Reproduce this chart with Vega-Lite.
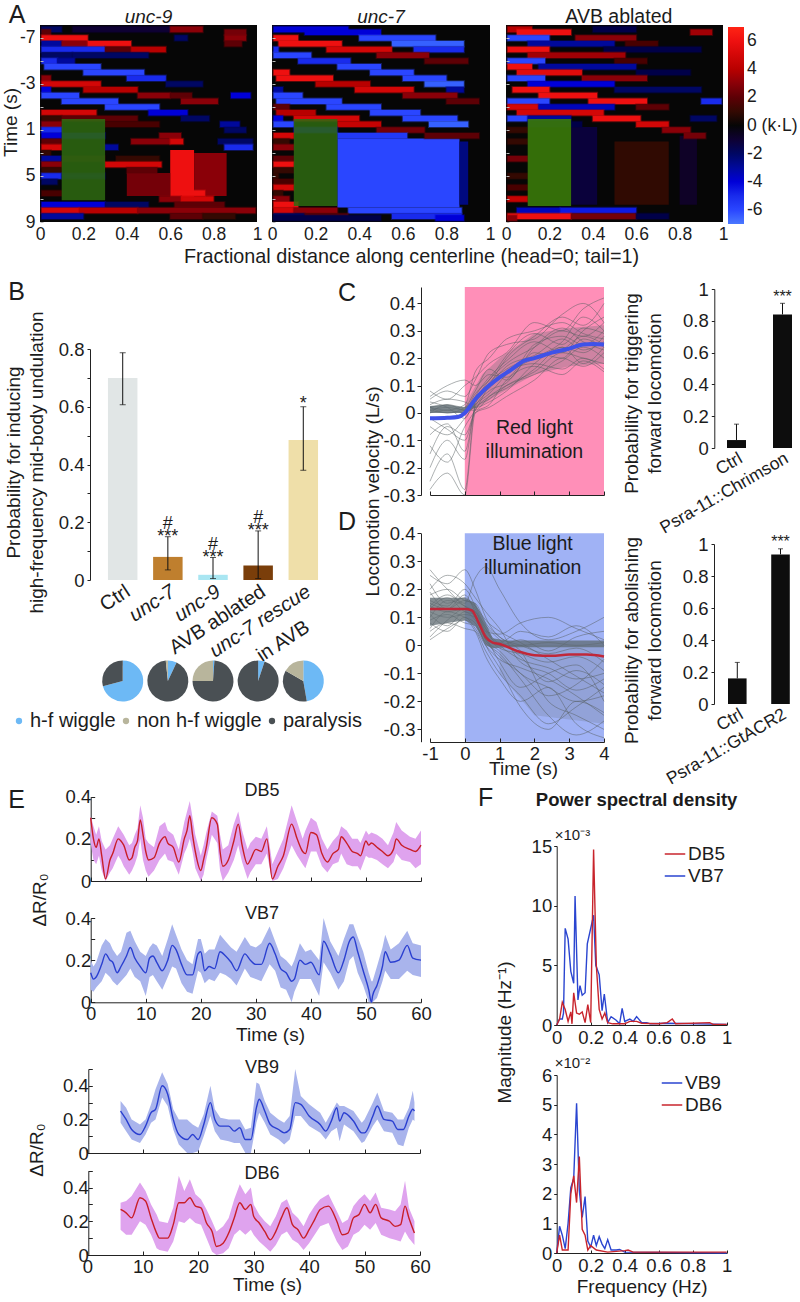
{"$schema":"https://vega.github.io/schema/vega-lite/v6.json","width":800,"height":1302,"padding":0,"autosize":{"type":"none"},"background":"white",
"config":{"font":"Liberation Sans","view":{"stroke":null},"text":{"color":"#1c1c1c"},"axis":{"grid":false,"labelFontSize":18.5,"titleFontSize":19,"titleFontWeight":"normal","labelColor":"#1c1c1c","titleColor":"#1c1c1c","domainColor":"#222","tickColor":"#222","labelFlush":false,"labelOverlap":false,"labelBound":false,"titlePadding":2},"legend":{"labelColor":"#1c1c1c","labelOverlap":false}},
"resolve":{"scale":{"x":"independent","y":"independent","color":"independent","stroke":"independent"},"axis":{"x":"independent","y":"independent"},"legend":{"color":"independent"}},
"datasets":{
"u9s":[{"a":0,"b":1,"t":-8.13,"u":9,"v":0},{"a":0.6,"b":0.71,"t":2.75,"u":7,"v":6},{"a":0.71,"b":0.86,"t":3,"u":6.75,"v":3},{"a":0.4,"b":0.6,"t":4.75,"u":6.75,"v":2.5}],
"u7s":[{"a":0,"b":1,"t":-8.13,"u":9,"v":0},{"a":0.3,"b":0.86,"t":1.75,"u":7.75,"v":-6},{"a":0.86,"b":0.9,"t":2,"u":7.5,"v":-2.5}],
"avs":[{"a":0,"b":1,"t":-8.13,"u":9,"v":0},{"a":0.3,"b":0.42,"t":0.75,"u":7.5,"v":-1.2},{"a":0.5,"b":0.75,"t":2,"u":7.5,"v":0.9},{"a":0.8,"b":0.88,"t":1.5,"u":7.5,"v":-0.7}],
"u9":[{"t":-7.75,"a":0.007,"b":0.1,"v":-2},{"t":-7.75,"a":0.15,"b":0.6,"v":-1},{"t":-7.75,"a":0.6,"b":0.75,"v":3},{"t":-7.5,"a":0.007,"b":0.05,"v":2},{"t":-7.5,"a":0.85,"b":0.95,"v":2.5},{"t":-7,"a":0.007,"b":0.22,"v":6},{"t":-7,"a":0.62,"b":0.68,"v":-2},{"t":-7,"a":0.85,"b":0.95,"v":3},{"t":-6.5,"a":0.007,"b":0.1,"v":-3},{"t":-6.5,"a":0.1,"b":0.22,"v":3},{"t":-6.5,"a":0.22,"b":0.42,"v":6},{"t":-6.5,"a":0.85,"b":0.93,"v":2},{"t":-6,"a":0.007,"b":0.3,"v":-5},{"t":-6,"a":0.3,"b":0.42,"v":2},{"t":-6,"a":0.42,"b":0.58,"v":4},{"t":-5.5,"a":0.007,"b":0.15,"v":-2},{"t":-5.5,"a":0.15,"b":0.5,"v":-2},{"t":-5,"a":0.007,"b":0.08,"v":-5},{"t":-5,"a":0.08,"b":0.16,"v":-3},{"t":-4.5,"a":0.02,"b":0.28,"v":-6},{"t":-4,"a":0.2,"b":0.48,"v":-6},{"t":-3.5,"a":0.007,"b":0.05,"v":3},{"t":-3.5,"a":0.4,"b":0.58,"v":-5},{"t":-3,"a":0.007,"b":0.28,"v":5},{"t":-3,"a":0.58,"b":0.75,"v":-2},{"t":-2.5,"a":0.007,"b":0.05,"v":-4},{"t":-2.5,"a":0.2,"b":0.45,"v":4},{"t":-2,"a":0.007,"b":0.18,"v":-6},{"t":-2,"a":0.45,"b":0.6,"v":3},{"t":-2,"a":0.6,"b":0.7,"v":2},{"t":-2,"a":0.88,"b":0.97,"v":-4},{"t":-1.5,"a":0.1,"b":0.36,"v":-6},{"t":-1.5,"a":0.65,"b":0.82,"v":3},{"t":-1,"a":0.3,"b":0.55,"v":-6},{"t":-0.5,"a":0.007,"b":0.26,"v":5},{"t":-0.5,"a":0.5,"b":0.68,"v":-4},{"t":0,"a":0.007,"b":0.1,"v":1},{"t":0,"a":0.1,"b":0.45,"v":2},{"t":0,"a":0.65,"b":0.78,"v":-2},{"t":0.5,"a":0.007,"b":0.1,"v":3},{"t":0.5,"a":0.3,"b":0.55,"v":1.5},{"t":0.5,"a":0.83,"b":0.92,"v":-3},{"t":1,"a":0.007,"b":0.1,"v":-5},{"t":1,"a":0.85,"b":0.95,"v":-2},{"t":1.5,"a":0.007,"b":0.1,"v":-4},{"t":1.5,"a":0.1,"b":0.3,"v":-3},{"t":1.5,"a":0.55,"b":0.65,"v":3},{"t":2,"a":0.007,"b":0.1,"v":2},{"t":2,"a":0.42,"b":0.6,"v":3},{"t":2,"a":0.6,"b":0.66,"v":5},{"t":2,"a":0.82,"b":0.98,"v":-2},{"t":2.5,"a":0.007,"b":0.1,"v":5},{"t":2.5,"a":0.3,"b":0.36,"v":-3},{"t":2.5,"a":0.85,"b":0.98,"v":-5},{"t":3,"a":0.007,"b":0.05,"v":1},{"t":3.5,"a":0.007,"b":0.1,"v":-3},{"t":3.5,"a":0.1,"b":0.3,"v":1},{"t":3.5,"a":0.35,"b":0.55,"v":1},{"t":4,"a":0.007,"b":0.1,"v":3},{"t":4,"a":0.3,"b":0.56,"v":5},{"t":4.5,"a":0.007,"b":0.1,"v":1},{"t":4.5,"a":0.4,"b":0.54,"v":2},{"t":5,"a":0.007,"b":0.1,"v":-5},{"t":5,"a":0.1,"b":0.3,"v":-2},{"t":5.5,"a":0.007,"b":0.08,"v":-2},{"t":6.5,"a":0.007,"b":0.1,"v":1.5},{"t":6.5,"a":0.62,"b":0.76,"v":6},{"t":7,"a":0.55,"b":0.65,"v":3},{"t":7,"a":0.65,"b":0.8,"v":5},{"t":7.5,"a":0.007,"b":0.3,"v":-4},{"t":7.5,"a":0.3,"b":0.5,"v":-2},{"t":7.5,"a":0.62,"b":0.85,"v":2},{"t":8,"a":0.007,"b":0.18,"v":5},{"t":8,"a":0.18,"b":0.45,"v":4},{"t":8,"a":0.45,"b":0.993,"v":3},{"t":8.5,"a":0.007,"b":0.2,"v":-3},{"t":8.5,"a":0.6,"b":0.75,"v":2},{"t":8.5,"a":0.75,"b":0.9,"v":1}],
"u7":[{"t":-7.75,"a":0.007,"b":0.35,"v":-4},{"t":-7.5,"a":0.15,"b":0.5,"v":-4},{"t":-7,"a":0.007,"b":0.12,"v":6},{"t":-7,"a":0.4,"b":0.75,"v":-6},{"t":-6.5,"a":0.03,"b":0.32,"v":6},{"t":-6.5,"a":0.55,"b":0.88,"v":-6.5},{"t":-6,"a":0.007,"b":0.03,"v":-5},{"t":-6,"a":0.25,"b":0.55,"v":5},{"t":-6,"a":0.65,"b":0.88,"v":-5},{"t":-5.5,"a":0.007,"b":0.18,"v":-6},{"t":-5.5,"a":0.48,"b":0.72,"v":3},{"t":-5,"a":0.12,"b":0.36,"v":-5},{"t":-5,"a":0.7,"b":0.9,"v":2},{"t":-4.5,"a":0.3,"b":0.5,"v":-6},{"t":-4,"a":0.007,"b":0.08,"v":6},{"t":-4,"a":0.45,"b":0.65,"v":-6},{"t":-3.5,"a":0.02,"b":0.28,"v":6},{"t":-3.5,"a":0.6,"b":0.8,"v":-6},{"t":-3,"a":0.2,"b":0.45,"v":4},{"t":-3,"a":0.7,"b":0.88,"v":-6.5},{"t":-2.5,"a":0.007,"b":0.05,"v":-3},{"t":-2.5,"a":0.38,"b":0.65,"v":5},{"t":-2.5,"a":0.8,"b":0.88,"v":-3},{"t":-2,"a":0.007,"b":0.14,"v":-6},{"t":-2,"a":0.6,"b":0.85,"v":3},{"t":-1.5,"a":0.02,"b":0.32,"v":-6},{"t":-1.5,"a":0.8,"b":0.95,"v":2},{"t":-1,"a":0.007,"b":0.08,"v":2},{"t":-1,"a":0.25,"b":0.5,"v":-6},{"t":-0.5,"a":0.02,"b":0.2,"v":4},{"t":-0.5,"a":0.45,"b":0.68,"v":-6},{"t":0,"a":0.007,"b":0.05,"v":-4},{"t":0,"a":0.1,"b":0.4,"v":5},{"t":0,"a":0.6,"b":0.85,"v":-6},{"t":0.5,"a":0.007,"b":0.1,"v":-6},{"t":0.5,"a":0.3,"b":0.5,"v":4.5},{"t":0.5,"a":0.72,"b":0.9,"v":-6.5},{"t":1,"a":0.1,"b":0.3,"v":-4},{"t":1,"a":0.48,"b":0.7,"v":2.5},{"t":1.5,"a":0.007,"b":0.1,"v":5},{"t":1.5,"a":0.3,"b":0.62,"v":-5.5},{"t":1.5,"a":0.7,"b":0.95,"v":2},{"t":2,"a":0.007,"b":0.08,"v":1},{"t":2.5,"a":0.007,"b":0.1,"v":3},{"t":3.5,"a":0.007,"b":0.1,"v":2},{"t":4,"a":0.007,"b":0.1,"v":6},{"t":4.5,"a":0.007,"b":0.1,"v":1},{"t":5,"a":0.007,"b":0.03,"v":1},{"t":5.5,"a":0.007,"b":0.1,"v":1.5},{"t":6,"a":0.007,"b":0.1,"v":5},{"t":6.5,"a":0.007,"b":0.05,"v":1},{"t":7,"a":0.007,"b":0.08,"v":3},{"t":7.5,"a":0.007,"b":0.12,"v":6},{"t":8,"a":0.007,"b":0.1,"v":5},{"t":8,"a":0.1,"b":0.3,"v":3},{"t":8,"a":0.35,"b":0.87,"v":-6},{"t":8.5,"a":0.007,"b":0.15,"v":-2},{"t":8.5,"a":0.15,"b":0.35,"v":2},{"t":8.5,"a":0.55,"b":0.87,"v":-5},{"t":8.65,"a":0.007,"b":0.5,"v":-1.5},{"t":8.65,"a":0.75,"b":0.88,"v":-4}],
"av":[{"t":-7.75,"a":0.007,"b":0.12,"v":4},{"t":-7.75,"a":0.4,"b":0.6,"v":-1.5},{"t":-7.5,"a":0.05,"b":0.3,"v":6},{"t":-7.5,"a":0.85,"b":0.95,"v":3.5},{"t":-7,"a":0.007,"b":0.2,"v":-6},{"t":-7,"a":0.32,"b":0.6,"v":3},{"t":-6.5,"a":0.1,"b":0.5,"v":-3},{"t":-6.5,"a":0.55,"b":0.7,"v":1.5},{"t":-6,"a":0.007,"b":0.2,"v":6},{"t":-6,"a":0.45,"b":0.9,"v":-1.5},{"t":-5.5,"a":0.1,"b":0.55,"v":3.5},{"t":-5,"a":0.007,"b":0.18,"v":-6},{"t":-5,"a":0.5,"b":0.65,"v":1.5},{"t":-4.5,"a":0.007,"b":0.12,"v":6},{"t":-4.5,"a":0.15,"b":0.6,"v":-3},{"t":-4,"a":0.05,"b":0.35,"v":5.5},{"t":-4,"a":0.6,"b":0.85,"v":-1.5},{"t":-3.5,"a":0.007,"b":0.18,"v":-6},{"t":-3.5,"a":0.35,"b":0.65,"v":3},{"t":-3,"a":0.1,"b":0.5,"v":-4},{"t":-2.5,"a":0.03,"b":0.2,"v":6},{"t":-2.5,"a":0.5,"b":0.9,"v":-2},{"t":-2,"a":0.15,"b":0.42,"v":6},{"t":-1.5,"a":0.007,"b":0.2,"v":-6},{"t":-1.5,"a":0.38,"b":0.65,"v":6},{"t":-1.5,"a":0.9,"b":0.993,"v":-5},{"t":-1,"a":0.007,"b":0.15,"v":5},{"t":-1,"a":0.15,"b":0.5,"v":-3.5},{"t":-1,"a":0.6,"b":0.75,"v":2},{"t":-0.5,"a":0.05,"b":0.45,"v":5},{"t":0,"a":0.007,"b":0.1,"v":-6},{"t":0,"a":0.1,"b":0.3,"v":-3},{"t":0,"a":0.4,"b":0.62,"v":6},{"t":0,"a":0.85,"b":0.97,"v":-2},{"t":0.5,"a":0.1,"b":0.35,"v":-1.5},{"t":0.5,"a":0.6,"b":0.75,"v":5},{"t":1,"a":0.007,"b":0.1,"v":1},{"t":1,"a":0.72,"b":0.85,"v":3},{"t":1.5,"a":0.82,"b":0.92,"v":2.5},{"t":2,"a":0.007,"b":0.1,"v":1},{"t":3.5,"a":0.007,"b":0.1,"v":2.5},{"t":5,"a":0.007,"b":0.1,"v":1},{"t":6,"a":0.007,"b":0.1,"v":1.5},{"t":7,"a":0.007,"b":0.1,"v":4.5},{"t":8,"a":0.05,"b":0.25,"v":-3.5},{"t":8,"a":0.25,"b":0.6,"v":-4.5},{"t":8.5,"a":0.007,"b":0.3,"v":6},{"t":8.5,"a":0.3,"b":0.6,"v":2.5},{"t":8.5,"a":0.6,"b":0.75,"v":-1.5},{"t":8.65,"a":0.007,"b":0.05,"v":3}],
"db5":[{"t":0,"v":0.3,"l":0.18,"h":0.31},{"t":0.5,"v":0.2,"l":0.1,"h":0.26},{"t":1,"v":0.16,"l":0.08,"h":0.22},{"t":1.5,"v":0.2,"l":0.12,"h":0.26},{"t":2,"v":0.12,"l":0.05,"h":0.19},{"t":2.7,"v":0.01,"l":0,"h":0.15},{"t":3.5,"v":0.1,"l":0.04,"h":0.17},{"t":4,"v":0.13,"l":0.06,"h":0.2},{"t":5,"v":0.2,"l":0.12,"h":0.26},{"t":5.5,"v":0.19,"l":0.1,"h":0.24},{"t":6,"v":0.17,"l":0.07,"h":0.22},{"t":7,"v":0.1,"l":0.03,"h":0.17},{"t":7.5,"v":0.11,"l":0.05,"h":0.18},{"t":8,"v":0.16,"l":0.08,"h":0.22},{"t":8.5,"v":0.19,"l":0.12,"h":0.25},{"t":9,"v":0.29,"l":0.2,"h":0.36},{"t":9.5,"v":0.22,"l":0.1,"h":0.3},{"t":10,"v":0.14,"l":0.05,"h":0.2},{"t":10.5,"v":0.1,"l":0.02,"h":0.18},{"t":11.5,"v":0.11,"l":0.05,"h":0.16},{"t":12.5,"v":0.18,"l":0.1,"h":0.26},{"t":13.5,"v":0.21,"l":0.13,"h":0.28},{"t":14,"v":0.18,"l":0.1,"h":0.24},{"t":15,"v":0.16,"l":0.09,"h":0.22},{"t":16,"v":0.09,"l":0.03,"h":0.15},{"t":17,"v":0.2,"l":0.13,"h":0.28},{"t":17.5,"v":0.24,"l":0.16,"h":0.33},{"t":18,"v":0.31,"l":0.2,"h":0.38},{"t":18.5,"v":0.22,"l":0.14,"h":0.3},{"t":19,"v":0.14,"l":0.06,"h":0.22},{"t":20,"v":0.05,"l":0,"h":0.12},{"t":20.5,"v":0.1,"l":0.03,"h":0.17},{"t":21,"v":0.16,"l":0.1,"h":0.23},{"t":22,"v":0.3,"l":0.22,"h":0.33},{"t":23,"v":0.27,"l":0.18,"h":0.31},{"t":23.5,"v":0.14,"l":0.05,"h":0.22},{"t":24,"v":0.07,"l":0,"h":0.15},{"t":25,"v":0.1,"l":0.04,"h":0.17},{"t":26,"v":0.19,"l":0.1,"h":0.27},{"t":26.8,"v":0.27,"l":0.17,"h":0.33},{"t":27.5,"v":0.17,"l":0.09,"h":0.24},{"t":28.5,"v":0.08,"l":0.01,"h":0.15},{"t":29,"v":0.1,"l":0.04,"h":0.18},{"t":30,"v":0.15,"l":0.08,"h":0.21},{"t":31,"v":0.14,"l":0.08,"h":0.2},{"t":32,"v":0.2,"l":0.13,"h":0.26},{"t":33,"v":0.01,"l":0,"h":0.08},{"t":34,"v":0.07,"l":0.01,"h":0.14},{"t":35,"v":0.12,"l":0.06,"h":0.2},{"t":36.5,"v":0.27,"l":0.17,"h":0.36},{"t":37.5,"v":0.2,"l":0.12,"h":0.28},{"t":38.5,"v":0.14,"l":0.08,"h":0.2},{"t":39,"v":0.13,"l":0.06,"h":0.24},{"t":40,"v":0.23,"l":0.14,"h":0.3},{"t":41,"v":0.22,"l":0.14,"h":0.28},{"t":42,"v":0.13,"l":0.07,"h":0.2},{"t":43,"v":0.09,"l":0.04,"h":0.15},{"t":44,"v":0.13,"l":0.08,"h":0.19},{"t":45,"v":0.15,"l":0.09,"h":0.22},{"t":45.5,"v":0.21,"l":0.13,"h":0.26},{"t":46.5,"v":0.18,"l":0.08,"h":0.24},{"t":47.5,"v":0.14,"l":0.07,"h":0.2},{"t":48.5,"v":0.13,"l":0.07,"h":0.2},{"t":49,"v":0.12,"l":0.05,"h":0.18},{"t":50,"v":0.19,"l":0.12,"h":0.24},{"t":50.5,"v":0.17,"l":0.11,"h":0.22},{"t":51,"v":0.18,"l":0.11,"h":0.23},{"t":52,"v":0.16,"l":0.1,"h":0.22},{"t":53,"v":0.14,"l":0.08,"h":0.2},{"t":54,"v":0.12,"l":0.06,"h":0.17},{"t":55,"v":0.15,"l":0.09,"h":0.23},{"t":55.5,"v":0.2,"l":0.13,"h":0.28},{"t":56.5,"v":0.17,"l":0.1,"h":0.24},{"t":58,"v":0.15,"l":0.09,"h":0.21},{"t":59,"v":0.14,"l":0.06,"h":0.2},{"t":60,"v":0.17,"l":0.08,"h":0.24}],
"vb7":[{"t":0,"v":0.14,"l":0.06,"h":0.2},{"t":0.5,"v":0.11,"l":0.05,"h":0.17},{"t":1,"v":0.12,"l":0.07,"h":0.19},{"t":2,"v":0.18,"l":0.1,"h":0.27},{"t":2.7,"v":0.23,"l":0.14,"h":0.3},{"t":3.5,"v":0.2,"l":0.12,"h":0.28},{"t":4,"v":0.19,"l":0.1,"h":0.25},{"t":4.8,"v":0.14,"l":0.08,"h":0.22},{"t":5.5,"v":0.17,"l":0.1,"h":0.24},{"t":6.5,"v":0.22,"l":0.13,"h":0.33},{"t":7.2,"v":0.26,"l":0.16,"h":0.34},{"t":8,"v":0.21,"l":0.12,"h":0.29},{"t":9,"v":0.17,"l":0.1,"h":0.24},{"t":10,"v":0.14,"l":0.03,"h":0.22},{"t":10.7,"v":0.21,"l":0.12,"h":0.26},{"t":11.3,"v":0.22,"l":0.13,"h":0.28},{"t":12,"v":0.19,"l":0.1,"h":0.27},{"t":13,"v":0.15,"l":0.06,"h":0.22},{"t":14,"v":0.2,"l":0.12,"h":0.3},{"t":14.8,"v":0.27,"l":0.17,"h":0.37},{"t":15.5,"v":0.25,"l":0.16,"h":0.32},{"t":16.5,"v":0.18,"l":0.09,"h":0.25},{"t":17.5,"v":0.13,"l":0.05,"h":0.2},{"t":18.5,"v":0.13,"l":0.04,"h":0.18},{"t":19.5,"v":0.23,"l":0.15,"h":0.3},{"t":20,"v":0.24,"l":0.14,"h":0.3},{"t":20.7,"v":0.15,"l":0.09,"h":0.23},{"t":21.5,"v":0.17,"l":0.11,"h":0.25},{"t":22.5,"v":0.16,"l":0.1,"h":0.25},{"t":23.5,"v":0.24,"l":0.14,"h":0.32},{"t":24.5,"v":0.22,"l":0.13,"h":0.29},{"t":25.5,"v":0.19,"l":0.11,"h":0.26},{"t":26.5,"v":0.15,"l":0.08,"h":0.24},{"t":28,"v":0.23,"l":0.16,"h":0.31},{"t":29,"v":0.2,"l":0.12,"h":0.27},{"t":30,"v":0.18,"l":0.11,"h":0.26},{"t":31,"v":0.18,"l":0.1,"h":0.28},{"t":32.5,"v":0.28,"l":0.18,"h":0.36},{"t":33.5,"v":0.23,"l":0.15,"h":0.29},{"t":34.5,"v":0.16,"l":0.07,"h":0.22},{"t":35.5,"v":0.14,"l":0.06,"h":0.2},{"t":36.5,"v":0.1,"l":0,"h":0.17},{"t":37,"v":0.11,"l":0.05,"h":0.2},{"t":38,"v":0.2,"l":0.11,"h":0.28},{"t":39,"v":0.18,"l":0.11,"h":0.24},{"t":40,"v":0.19,"l":0.11,"h":0.25},{"t":41.5,"v":0.13,"l":0.03,"h":0.2},{"t":42.3,"v":0.29,"l":0.19,"h":0.4},{"t":43.5,"v":0.23,"l":0.14,"h":0.29},{"t":45,"v":0.14,"l":0.06,"h":0.22},{"t":46,"v":0.2,"l":0.1,"h":0.3},{"t":47,"v":0.29,"l":0.2,"h":0.37},{"t":47.7,"v":0.31,"l":0.22,"h":0.37},{"t":48.5,"v":0.24,"l":0.14,"h":0.31},{"t":49.5,"v":0.15,"l":0.08,"h":0.24},{"t":50.5,"v":0.06,"l":0,"h":0.14},{"t":51,"v":0,"l":0,"h":0.1},{"t":51.2,"v":0.03,"l":0,"h":0.1},{"t":52,"v":0.08,"l":0.02,"h":0.17},{"t":53,"v":0.17,"l":0.1,"h":0.26},{"t":53.5,"v":0.24,"l":0.15,"h":0.32},{"t":54.5,"v":0.19,"l":0.11,"h":0.25},{"t":56,"v":0.2,"l":0.11,"h":0.28},{"t":57.5,"v":0.27,"l":0.15,"h":0.34},{"t":58.5,"v":0.21,"l":0.13,"h":0.28},{"t":60,"v":0.2,"l":0.12,"h":0.27}],
"vb9":[{"t":6,"v":0.25,"l":0.18,"h":0.31},{"t":7,"v":0.2,"l":0.13,"h":0.27},{"t":8,"v":0.14,"l":0.08,"h":0.2},{"t":9.5,"v":0.11,"l":0.06,"h":0.17},{"t":10.5,"v":0.16,"l":0.11,"h":0.2},{"t":11.5,"v":0.24,"l":0.18,"h":0.29},{"t":12.3,"v":0.26,"l":0.2,"h":0.38},{"t":13.5,"v":0.4,"l":0.33,"h":0.48},{"t":14.5,"v":0.35,"l":0.28,"h":0.41},{"t":15.5,"v":0.2,"l":0.14,"h":0.26},{"t":16.5,"v":0.11,"l":0.05,"h":0.2},{"t":18,"v":0.08,"l":0,"h":0.2},{"t":19,"v":0.11,"l":0,"h":0.17},{"t":20,"v":0.08,"l":0.01,"h":0.15},{"t":21,"v":0.17,"l":0.1,"h":0.23},{"t":22.2,"v":0.3,"l":0.22,"h":0.4},{"t":23,"v":0.2,"l":0.13,"h":0.26},{"t":24,"v":0.16,"l":0.08,"h":0.21},{"t":25.5,"v":0.16,"l":0.07,"h":0.2},{"t":26.5,"v":0.13,"l":0.06,"h":0.2},{"t":27.5,"v":0.15,"l":0.06,"h":0.2},{"t":28.5,"v":0.08,"l":0,"h":0.14},{"t":29.5,"v":0.08,"l":0,"h":0.15},{"t":30.5,"v":0.27,"l":0.18,"h":0.42},{"t":31,"v":0.32,"l":0.24,"h":0.41},{"t":32,"v":0.25,"l":0.18,"h":0.31},{"t":33,"v":0.17,"l":0.11,"h":0.24},{"t":34.5,"v":0.14,"l":0.08,"h":0.2},{"t":35.5,"v":0.12,"l":0.05,"h":0.18},{"t":36.5,"v":0.14,"l":0.08,"h":0.22},{"t":37.5,"v":0.3,"l":0.22,"h":0.5},{"t":38.5,"v":0.29,"l":0.22,"h":0.34},{"t":40,"v":0.22,"l":0.16,"h":0.29},{"t":42,"v":0.17,"l":0.12,"h":0.24},{"t":43,"v":0.13,"l":0.08,"h":0.18},{"t":44,"v":0.19,"l":0.13,"h":0.24},{"t":45,"v":0.27,"l":0.15,"h":0.3},{"t":45.5,"v":0.19,"l":0.07,"h":0.28},{"t":46.3,"v":0.24,"l":0.17,"h":0.28},{"t":48,"v":0.19,"l":0.13,"h":0.25},{"t":49.5,"v":0.12,"l":0.06,"h":0.18},{"t":50,"v":0.12,"l":0.07,"h":0.2},{"t":51.5,"v":0.22,"l":0.16,"h":0.3},{"t":52.3,"v":0.28,"l":0.2,"h":0.36},{"t":53.5,"v":0.2,"l":0.13,"h":0.25},{"t":55,"v":0.19,"l":0.12,"h":0.24},{"t":56,"v":0.14,"l":0.05,"h":0.2},{"t":57,"v":0.14,"l":0.04,"h":0.2},{"t":58,"v":0.22,"l":0.15,"h":0.27},{"t":58.7,"v":0.26,"l":0.2,"h":0.37},{"t":59,"v":0.25,"l":0.19,"h":0.3}],
"db6":[{"t":6,"v":0.27,"l":0.15,"h":0.31},{"t":7,"v":0.25,"l":0.12,"h":0.32},{"t":8,"v":0.22,"l":0.12,"h":0.35},{"t":9.5,"v":0.34,"l":0.2,"h":0.43},{"t":10.5,"v":0.32,"l":0.18,"h":0.38},{"t":11.5,"v":0.22,"l":0.12,"h":0.3},{"t":12.5,"v":0.13,"l":0.04,"h":0.24},{"t":13,"v":0.1,"l":0.03,"h":0.2},{"t":14.5,"v":0.1,"l":0.02,"h":0.19},{"t":15.5,"v":0.18,"l":0.08,"h":0.28},{"t":16.5,"v":0.31,"l":0.2,"h":0.47},{"t":17.5,"v":0.31,"l":0.19,"h":0.38},{"t":18.5,"v":0.34,"l":0.22,"h":0.45},{"t":19.5,"v":0.29,"l":0.19,"h":0.36},{"t":20.5,"v":0.28,"l":0.18,"h":0.33},{"t":21.5,"v":0.19,"l":0.1,"h":0.27},{"t":22.5,"v":0.14,"l":0.02,"h":0.2},{"t":23.3,"v":0.05,"l":0,"h":0.14},{"t":24.5,"v":0.07,"l":0.01,"h":0.17},{"t":25.5,"v":0.13,"l":0.04,"h":0.22},{"t":26.5,"v":0.22,"l":0.12,"h":0.33},{"t":27.5,"v":0.31,"l":0.15,"h":0.42},{"t":28.5,"v":0.27,"l":0.12,"h":0.36},{"t":29.5,"v":0.3,"l":0.15,"h":0.4},{"t":30,"v":0.23,"l":0.12,"h":0.3},{"t":31,"v":0.19,"l":0.08,"h":0.24},{"t":32,"v":0.14,"l":0.05,"h":0.2},{"t":33,"v":0.09,"l":0.02,"h":0.17},{"t":34,"v":0.14,"l":0.06,"h":0.23},{"t":35,"v":0.22,"l":0.12,"h":0.31},{"t":36,"v":0.28,"l":0.14,"h":0.33},{"t":37,"v":0.18,"l":0.09,"h":0.25},{"t":38,"v":0.15,"l":0.07,"h":0.22},{"t":39,"v":0.1,"l":0.03,"h":0.17},{"t":40,"v":0.15,"l":0.07,"h":0.24},{"t":41,"v":0.21,"l":0.12,"h":0.29},{"t":42,"v":0.27,"l":0.17,"h":0.33},{"t":43.5,"v":0.29,"l":0.19,"h":0.36},{"t":45,"v":0.2,"l":0.08,"h":0.26},{"t":46,"v":0.12,"l":0.03,"h":0.19},{"t":47,"v":0.13,"l":0.05,"h":0.21},{"t":48,"v":0.22,"l":0.12,"h":0.29},{"t":49,"v":0.24,"l":0.14,"h":0.33},{"t":50,"v":0.3,"l":0.18,"h":0.36},{"t":51,"v":0.25,"l":0.15,"h":0.32},{"t":52,"v":0.3,"l":0.19,"h":0.37},{"t":53,"v":0.22,"l":0.12,"h":0.28},{"t":54.5,"v":0.2,"l":0.1,"h":0.27},{"t":55.5,"v":0.17,"l":0.09,"h":0.26},{"t":56.5,"v":0.18,"l":0.08,"h":0.3},{"t":57.3,"v":0.29,"l":0.14,"h":0.44},{"t":58,"v":0.22,"l":0.1,"h":0.28},{"t":59,"v":0.13,"l":0.06,"h":0.2}],
"f1":[{"s":"VB7","f":0,"m":0},{"s":"VB7","f":0.017,"m":0.5},{"s":"VB7","f":0.033,"m":0.5},{"s":"VB7","f":0.04,"m":1},{"s":"VB7","f":0.05,"m":8.1},{"s":"VB7","f":0.067,"m":7.2},{"s":"VB7","f":0.083,"m":4.5},{"s":"VB7","f":0.1,"m":3.5},{"s":"VB7","f":0.108,"m":10.8},{"s":"VB7","f":0.125,"m":2.1},{"s":"VB7","f":0.137,"m":3.3},{"s":"VB7","f":0.15,"m":2.5},{"s":"VB7","f":0.167,"m":2.7},{"s":"VB7","f":0.18,"m":6.8},{"s":"VB7","f":0.2,"m":8.1},{"s":"VB7","f":0.217,"m":9.2},{"s":"VB7","f":0.23,"m":5},{"s":"VB7","f":0.25,"m":4.2},{"s":"VB7","f":0.267,"m":1.2},{"s":"VB7","f":0.28,"m":2.6},{"s":"VB7","f":0.3,"m":0.2},{"s":"VB7","f":0.32,"m":0.7},{"s":"VB7","f":0.35,"m":0.4},{"s":"VB7","f":0.37,"m":0.1},{"s":"VB7","f":0.385,"m":1.4},{"s":"VB7","f":0.4,"m":0.3},{"s":"VB7","f":0.43,"m":0.5},{"s":"VB7","f":0.45,"m":0.3},{"s":"VB7","f":0.47,"m":0.7},{"s":"VB7","f":0.5,"m":0.2},{"s":"VB7","f":0.53,"m":0.2},{"s":"VB7","f":0.55,"m":0.1},{"s":"VB7","f":0.65,"m":0.15},{"s":"VB7","f":1,"m":0.05},{"s":"DB5","f":0,"m":0},{"s":"DB5","f":0.017,"m":0.5},{"s":"DB5","f":0.033,"m":1.9},{"s":"DB5","f":0.05,"m":1.3},{"s":"DB5","f":0.067,"m":0.3},{"s":"DB5","f":0.083,"m":1.1},{"s":"DB5","f":0.09,"m":0.1},{"s":"DB5","f":0.1,"m":2.7},{"s":"DB5","f":0.117,"m":1},{"s":"DB5","f":0.133,"m":0.9},{"s":"DB5","f":0.15,"m":1.1},{"s":"DB5","f":0.167,"m":0.2},{"s":"DB5","f":0.183,"m":1.7},{"s":"DB5","f":0.2,"m":0.2},{"s":"DB5","f":0.217,"m":14.7},{"s":"DB5","f":0.233,"m":5},{"s":"DB5","f":0.25,"m":1.3},{"s":"DB5","f":0.267,"m":0.5},{"s":"DB5","f":0.283,"m":1},{"s":"DB5","f":0.3,"m":0.2},{"s":"DB5","f":0.33,"m":0.1},{"s":"DB5","f":0.4,"m":0.1},{"s":"DB5","f":0.43,"m":0.3},{"s":"DB5","f":0.47,"m":0.3},{"s":"DB5","f":0.5,"m":0.15},{"s":"DB5","f":0.6,"m":0.1},{"s":"DB5","f":0.65,"m":0.2},{"s":"DB5","f":0.68,"m":0.5},{"s":"DB5","f":0.7,"m":0.1},{"s":"DB5","f":0.9,"m":0.2},{"s":"DB5","f":0.92,"m":0.05},{"s":"DB5","f":1,"m":0.05}],
"f2":[{"s":"VB9","f":0,"m":0},{"s":"VB9","f":0.017,"m":0.9},{"s":"VB9","f":0.033,"m":0.6},{"s":"VB9","f":0.05,"m":0.15},{"s":"VB9","f":0.067,"m":1},{"s":"VB9","f":0.083,"m":2.2},{"s":"VB9","f":0.1,"m":2.5},{"s":"VB9","f":0.117,"m":5.05},{"s":"VB9","f":0.133,"m":2.1},{"s":"VB9","f":0.15,"m":1.2},{"s":"VB9","f":0.167,"m":1.9},{"s":"VB9","f":0.183,"m":0.4},{"s":"VB9","f":0.2,"m":0.2},{"s":"VB9","f":0.217,"m":0.6},{"s":"VB9","f":0.233,"m":0.25},{"s":"VB9","f":0.25,"m":0.55},{"s":"VB9","f":0.267,"m":0.3},{"s":"VB9","f":0.283,"m":0.15},{"s":"VB9","f":0.3,"m":0.45},{"s":"VB9","f":0.32,"m":0.1},{"s":"VB9","f":0.35,"m":0.1},{"s":"VB9","f":0.37,"m":0.12},{"s":"VB9","f":0.4,"m":0.03},{"s":"VB9","f":1,"m":0},{"s":"DB6","f":0,"m":0},{"s":"DB6","f":0.017,"m":0.6},{"s":"DB6","f":0.033,"m":0.1},{"s":"DB6","f":0.067,"m":0.1},{"s":"DB6","f":0.083,"m":2},{"s":"DB6","f":0.1,"m":2.6},{"s":"DB6","f":0.117,"m":1.7},{"s":"DB6","f":0.133,"m":3.25},{"s":"DB6","f":0.15,"m":0.8},{"s":"DB6","f":0.167,"m":0.6},{"s":"DB6","f":0.183,"m":0.1},{"s":"DB6","f":0.2,"m":0.25},{"s":"DB6","f":0.233,"m":0.1},{"s":"DB6","f":0.3,"m":0.03},{"s":"DB6","f":0.4,"m":0.08},{"s":"DB6","f":0.42,"m":0.1},{"s":"DB6","f":0.45,"m":0.03},{"s":"DB6","f":1,"m":0.03}],
"ct":[{"i":1,"t":-1,"v":0.02},{"i":1,"t":-0.5,"v":0.03},{"i":1,"t":0,"v":0.01},{"i":1,"t":0.3,"v":0.05},{"i":1,"t":0.7,"v":0.12},{"i":1,"t":1.2,"v":0.18},{"i":1,"t":2,"v":0.24},{"i":1,"t":2.8,"v":0.3},{"i":1,"t":3.4,"v":0.28},{"i":1,"t":4,"v":0.33},{"i":2,"t":-1,"v":0.01},{"i":2,"t":-0.5,"v":0},{"i":2,"t":0,"v":0.02},{"i":2,"t":0.3,"v":0.08},{"i":2,"t":0.7,"v":0.16},{"i":2,"t":1.2,"v":0.12},{"i":2,"t":2,"v":0.22},{"i":2,"t":2.8,"v":0.2},{"i":2,"t":3.4,"v":0.27},{"i":2,"t":4,"v":0.24},{"i":3,"t":-1,"v":-0.05},{"i":3,"t":-0.5,"v":-0.08},{"i":3,"t":0,"v":-0.02},{"i":3,"t":0.3,"v":0.03},{"i":3,"t":0.7,"v":0.07},{"i":3,"t":1.2,"v":0.14},{"i":3,"t":2,"v":0.2},{"i":3,"t":2.8,"v":0.26},{"i":3,"t":3.4,"v":0.35},{"i":3,"t":4,"v":0.3},{"i":4,"t":-1,"v":0.08},{"i":4,"t":-0.5,"v":0.05},{"i":4,"t":0,"v":0.1},{"i":4,"t":0.3,"v":0.13},{"i":4,"t":0.7,"v":0.18},{"i":4,"t":1.2,"v":0.22},{"i":4,"t":2,"v":0.33},{"i":4,"t":2.8,"v":0.3},{"i":4,"t":3.4,"v":0.38},{"i":4,"t":4,"v":0.42},{"i":5,"t":-1,"v":-0.25},{"i":5,"t":-0.5,"v":-0.15},{"i":5,"t":0,"v":-0.28},{"i":5,"t":0.3,"v":0.02},{"i":5,"t":0.7,"v":0.05},{"i":5,"t":1.2,"v":0.1},{"i":5,"t":2,"v":0.15},{"i":5,"t":2.8,"v":0.22},{"i":5,"t":3.4,"v":0.2},{"i":5,"t":4,"v":0.18},{"i":6,"t":-1,"v":0.03},{"i":6,"t":-0.5,"v":0.05},{"i":6,"t":0,"v":0.04},{"i":6,"t":0.3,"v":0.02},{"i":6,"t":0.7,"v":0.04},{"i":6,"t":1.2,"v":0.08},{"i":6,"t":2,"v":0.18},{"i":6,"t":2.8,"v":0.24},{"i":6,"t":3.4,"v":0.22},{"i":6,"t":4,"v":0.28},{"i":7,"t":-1,"v":-0.12},{"i":7,"t":-0.5,"v":-0.18},{"i":7,"t":0,"v":-0.05},{"i":7,"t":0.3,"v":0.01},{"i":7,"t":0.7,"v":0.1},{"i":7,"t":1.2,"v":0.2},{"i":7,"t":2,"v":0.28},{"i":7,"t":2.8,"v":0.35},{"i":7,"t":3.4,"v":0.32},{"i":7,"t":4,"v":0.4},{"i":8,"t":-1,"v":0},{"i":8,"t":-0.5,"v":0.01},{"i":8,"t":0,"v":0},{"i":8,"t":0.3,"v":0.05},{"i":8,"t":0.7,"v":0.09},{"i":8,"t":1.2,"v":0.15},{"i":8,"t":2,"v":0.18},{"i":8,"t":2.8,"v":0.16},{"i":8,"t":3.4,"v":0.2},{"i":8,"t":4,"v":0.16},{"i":9,"t":-1,"v":0.06},{"i":9,"t":-0.5,"v":0.1},{"i":9,"t":0,"v":0.12},{"i":9,"t":0.3,"v":0.1},{"i":9,"t":0.7,"v":0.14},{"i":9,"t":1.2,"v":0.13},{"i":9,"t":2,"v":0.25},{"i":9,"t":2.8,"v":0.28},{"i":9,"t":3.4,"v":0.25},{"i":9,"t":4,"v":0.3},{"i":10,"t":-1,"v":-0.02},{"i":10,"t":-0.5,"v":-0.06},{"i":10,"t":0,"v":-0.1},{"i":10,"t":0.3,"v":0},{"i":10,"t":0.7,"v":0.02},{"i":10,"t":1.2,"v":0.06},{"i":10,"t":2,"v":0.12},{"i":10,"t":2.8,"v":0.2},{"i":10,"t":3.4,"v":0.17},{"i":10,"t":4,"v":0.22},{"i":11,"t":-1,"v":0.02},{"i":11,"t":-0.5,"v":0.01},{"i":11,"t":0,"v":0.03},{"i":11,"t":0.3,"v":0.15},{"i":11,"t":0.7,"v":0.2},{"i":11,"t":1.2,"v":0.27},{"i":11,"t":2,"v":0.3},{"i":11,"t":2.8,"v":0.33},{"i":11,"t":3.4,"v":0.29},{"i":11,"t":4,"v":0.27},{"i":12,"t":-1,"v":-0.2},{"i":12,"t":-0.5,"v":-0.1},{"i":12,"t":0,"v":-0.17},{"i":12,"t":0.3,"v":0.03},{"i":12,"t":0.7,"v":0.11},{"i":12,"t":1.2,"v":0.16},{"i":12,"t":2,"v":0.2},{"i":12,"t":2.8,"v":0.23},{"i":12,"t":3.4,"v":0.28},{"i":12,"t":4,"v":0.25},{"i":13,"t":-1,"v":0.01},{"i":13,"t":-0.5,"v":0.02},{"i":13,"t":0,"v":0.01},{"i":13,"t":0.3,"v":0.01},{"i":13,"t":0.7,"v":0.06},{"i":13,"t":1.2,"v":0.1},{"i":13,"t":2,"v":0.14},{"i":13,"t":2.8,"v":0.19},{"i":13,"t":3.4,"v":0.24},{"i":13,"t":4,"v":0.2},{"i":14,"t":-1,"v":0.04},{"i":14,"t":-0.5,"v":0.02},{"i":14,"t":0,"v":-0.02},{"i":14,"t":0.3,"v":0.06},{"i":14,"t":0.7,"v":0.13},{"i":14,"t":1.2,"v":0.19},{"i":14,"t":2,"v":0.26},{"i":14,"t":2.8,"v":0.22},{"i":14,"t":3.4,"v":0.3},{"i":14,"t":4,"v":0.35},{"i":15,"t":-1,"v":-0.08},{"i":15,"t":-0.5,"v":-0.04},{"i":15,"t":0,"v":-0.14},{"i":15,"t":0.3,"v":0.02},{"i":15,"t":0.7,"v":0.08},{"i":15,"t":1.2,"v":0.11},{"i":15,"t":2,"v":0.24},{"i":15,"t":2.8,"v":0.31},{"i":15,"t":3.4,"v":0.26},{"i":15,"t":4,"v":0.23},{"i":16,"t":-1,"v":0.05},{"i":16,"t":-0.5,"v":0.08},{"i":16,"t":0,"v":0.06},{"i":16,"t":0.3,"v":0.12},{"i":16,"t":0.7,"v":0.22},{"i":16,"t":1.2,"v":0.25},{"i":16,"t":2,"v":0.27},{"i":16,"t":2.8,"v":0.36},{"i":16,"t":3.4,"v":0.4},{"i":16,"t":4,"v":0.33},{"i":17,"t":-1,"v":-0.28},{"i":17,"t":-0.5,"v":-0.22},{"i":17,"t":0,"v":-0.3},{"i":17,"t":0.3,"v":0},{"i":17,"t":0.7,"v":0.03},{"i":17,"t":1.2,"v":0.12},{"i":17,"t":2,"v":0.17},{"i":17,"t":2.8,"v":0.14},{"i":17,"t":3.4,"v":0.19},{"i":17,"t":4,"v":0.15},{"i":18,"t":-1,"v":0},{"i":18,"t":-0.5,"v":0.03},{"i":18,"t":0,"v":0.02},{"i":18,"t":0.3,"v":0.04},{"i":18,"t":0.7,"v":0.1},{"i":18,"t":1.2,"v":0.17},{"i":18,"t":2,"v":0.21},{"i":18,"t":2.8,"v":0.27},{"i":18,"t":3.4,"v":0.23},{"i":18,"t":4,"v":0.26},{"i":19,"t":-1,"v":0.02},{"i":19,"t":-0.5,"v":0},{"i":19,"t":0,"v":0.01},{"i":19,"t":0.3,"v":0.07},{"i":19,"t":0.7,"v":0.12},{"i":19,"t":1.2,"v":0.21},{"i":19,"t":2,"v":0.29},{"i":19,"t":2.8,"v":0.25},{"i":19,"t":3.4,"v":0.31},{"i":19,"t":4,"v":0.29},{"i":20,"t":-1,"v":-0.15},{"i":20,"t":-0.5,"v":-0.05},{"i":20,"t":0,"v":-0.08},{"i":20,"t":0.3,"v":0.01},{"i":20,"t":0.7,"v":0.06},{"i":20,"t":1.2,"v":0.09},{"i":20,"t":2,"v":0.16},{"i":20,"t":2.8,"v":0.24},{"i":20,"t":3.4,"v":0.18},{"i":20,"t":4,"v":0.24}],
"dt":[{"i":1,"t":-1,"v":0.14},{"i":1,"t":-0.5,"v":0.12},{"i":1,"t":0,"v":0.13},{"i":1,"t":0.3,"v":0.12},{"i":1,"t":0.6,"v":0.05},{"i":1,"t":1,"v":0},{"i":1,"t":1.6,"v":-0.05},{"i":1,"t":2.4,"v":-0.08},{"i":1,"t":3.2,"v":-0.12},{"i":1,"t":4,"v":-0.1},{"i":2,"t":-1,"v":0.1},{"i":2,"t":-0.5,"v":0.16},{"i":2,"t":0,"v":0.14},{"i":2,"t":0.3,"v":0.1},{"i":2,"t":0.6,"v":0.02},{"i":2,"t":1,"v":-0.02},{"i":2,"t":1.6,"v":-0.1},{"i":2,"t":2.4,"v":-0.15},{"i":2,"t":3.2,"v":-0.2},{"i":2,"t":4,"v":-0.18},{"i":3,"t":-1,"v":0.25},{"i":3,"t":-0.5,"v":0.22},{"i":3,"t":0,"v":0.27},{"i":3,"t":0.3,"v":0.2},{"i":3,"t":0.6,"v":0.1},{"i":3,"t":1,"v":0.03},{"i":3,"t":1.6,"v":0},{"i":3,"t":2.4,"v":-0.03},{"i":3,"t":3.2,"v":-0.01},{"i":3,"t":4,"v":-0.06},{"i":4,"t":-1,"v":0.08},{"i":4,"t":-0.5,"v":0.05},{"i":4,"t":0,"v":0.1},{"i":4,"t":0.3,"v":0.06},{"i":4,"t":0.6,"v":0},{"i":4,"t":1,"v":-0.05},{"i":4,"t":1.6,"v":-0.08},{"i":4,"t":2.4,"v":-0.12},{"i":4,"t":3.2,"v":-0.18},{"i":4,"t":4,"v":-0.25},{"i":5,"t":-1,"v":0.18},{"i":5,"t":-0.5,"v":0.2},{"i":5,"t":0,"v":0.16},{"i":5,"t":0.3,"v":0.15},{"i":5,"t":0.6,"v":0.08},{"i":5,"t":1,"v":0.03},{"i":5,"t":1.6,"v":-0.02},{"i":5,"t":2.4,"v":-0.2},{"i":5,"t":3.2,"v":-0.25},{"i":5,"t":4,"v":-0.3},{"i":6,"t":-1,"v":0.12},{"i":6,"t":-0.5,"v":0.1},{"i":6,"t":0,"v":0.11},{"i":6,"t":0.3,"v":0.1},{"i":6,"t":0.6,"v":0.03},{"i":6,"t":1,"v":0},{"i":6,"t":1.6,"v":0},{"i":6,"t":2.4,"v":0.01},{"i":6,"t":3.2,"v":0},{"i":6,"t":4,"v":0.01},{"i":7,"t":-1,"v":0.05},{"i":7,"t":-0.5,"v":0.08},{"i":7,"t":0,"v":0.06},{"i":7,"t":0.3,"v":0.05},{"i":7,"t":0.6,"v":-0.02},{"i":7,"t":1,"v":-0.1},{"i":7,"t":1.6,"v":-0.18},{"i":7,"t":2.4,"v":-0.28},{"i":7,"t":3.2,"v":-0.22},{"i":7,"t":4,"v":-0.15},{"i":8,"t":-1,"v":0.27},{"i":8,"t":-0.5,"v":0.2},{"i":8,"t":0,"v":0.15},{"i":8,"t":0.3,"v":0.24},{"i":8,"t":0.6,"v":0.28},{"i":8,"t":1,"v":0.2},{"i":8,"t":1.6,"v":0.08},{"i":8,"t":2.4,"v":0.02},{"i":8,"t":3.2,"v":0.05},{"i":8,"t":4,"v":0.1},{"i":9,"t":-1,"v":0.15},{"i":9,"t":-0.5,"v":0.13},{"i":9,"t":0,"v":0.18},{"i":9,"t":0.3,"v":0.12},{"i":9,"t":0.6,"v":0.06},{"i":9,"t":1,"v":0.01},{"i":9,"t":1.6,"v":0.05},{"i":9,"t":2.4,"v":0.03},{"i":9,"t":3.2,"v":0.07},{"i":9,"t":4,"v":0},{"i":10,"t":-1,"v":0.02},{"i":10,"t":-0.5,"v":0.06},{"i":10,"t":0,"v":0.09},{"i":10,"t":0.3,"v":0.05},{"i":10,"t":0.6,"v":-0.04},{"i":10,"t":1,"v":-0.12},{"i":10,"t":1.6,"v":-0.2},{"i":10,"t":2.4,"v":-0.15},{"i":10,"t":3.2,"v":-0.28},{"i":10,"t":4,"v":-0.33},{"i":11,"t":-1,"v":0.13},{"i":11,"t":-0.5,"v":0.17},{"i":11,"t":0,"v":0.12},{"i":11,"t":0.3,"v":0.11},{"i":11,"t":0.6,"v":0.04},{"i":11,"t":1,"v":-0.01},{"i":11,"t":1.6,"v":-0.03},{"i":11,"t":2.4,"v":-0.06},{"i":11,"t":3.2,"v":-0.04},{"i":11,"t":4,"v":-0.09},{"i":12,"t":-1,"v":0.2},{"i":12,"t":-0.5,"v":0.25},{"i":12,"t":0,"v":0.22},{"i":12,"t":0.3,"v":0.17},{"i":12,"t":0.6,"v":0.12},{"i":12,"t":1,"v":0.06},{"i":12,"t":1.6,"v":-0.06},{"i":12,"t":2.4,"v":-0.1},{"i":12,"t":3.2,"v":-0.16},{"i":12,"t":4,"v":-0.12},{"i":13,"t":-1,"v":0.09},{"i":13,"t":-0.5,"v":0.11},{"i":13,"t":0,"v":0.08},{"i":13,"t":0.3,"v":0.07},{"i":13,"t":0.6,"v":0.01},{"i":13,"t":1,"v":-0.03},{"i":13,"t":1.6,"v":-0.12},{"i":13,"t":2.4,"v":-0.25},{"i":13,"t":3.2,"v":-0.32},{"i":13,"t":4,"v":-0.27},{"i":14,"t":-1,"v":0.16},{"i":14,"t":-0.5,"v":0.14},{"i":14,"t":0,"v":0.2},{"i":14,"t":0.3,"v":0.14},{"i":14,"t":0.6,"v":0.06},{"i":14,"t":1,"v":0},{"i":14,"t":1.6,"v":0.02},{"i":14,"t":2.4,"v":-0.02},{"i":14,"t":3.2,"v":0.03},{"i":14,"t":4,"v":0.05},{"i":15,"t":-1,"v":0.11},{"i":15,"t":-0.5,"v":0.07},{"i":15,"t":0,"v":0.12},{"i":15,"t":0.3,"v":0.09},{"i":15,"t":0.6,"v":0.03},{"i":15,"t":1,"v":-0.06},{"i":15,"t":1.6,"v":-0.15},{"i":15,"t":2.4,"v":-0.1},{"i":15,"t":3.2,"v":-0.07},{"i":15,"t":4,"v":-0.2},{"i":16,"t":-1,"v":0.22},{"i":16,"t":-0.5,"v":0.15},{"i":16,"t":0,"v":0.17},{"i":16,"t":0.3,"v":0.13},{"i":16,"t":0.6,"v":0.05},{"i":16,"t":1,"v":0.04},{"i":16,"t":1.6,"v":0.08},{"i":16,"t":2.4,"v":0.1},{"i":16,"t":3.2,"v":0.06},{"i":16,"t":4,"v":0.02},{"i":17,"t":-1,"v":0.06},{"i":17,"t":-0.5,"v":0.12},{"i":17,"t":0,"v":0.1},{"i":17,"t":0.3,"v":0.08},{"i":17,"t":0.6,"v":0},{"i":17,"t":1,"v":-0.08},{"i":17,"t":1.6,"v":-0.22},{"i":17,"t":2.4,"v":-0.3},{"i":17,"t":3.2,"v":-0.2},{"i":17,"t":4,"v":-0.24},{"i":18,"t":-1,"v":0.14},{"i":18,"t":-0.5,"v":0.18},{"i":18,"t":0,"v":0.14},{"i":18,"t":0.3,"v":0.12},{"i":18,"t":0.6,"v":0.07},{"i":18,"t":1,"v":0.02},{"i":18,"t":1.6,"v":-0.04},{"i":18,"t":2.4,"v":-0.13},{"i":18,"t":3.2,"v":-0.09},{"i":18,"t":4,"v":-0.14},{"i":19,"t":-1,"v":0.03},{"i":19,"t":-0.5,"v":0.09},{"i":19,"t":0,"v":0.13},{"i":19,"t":0.3,"v":0.1},{"i":19,"t":0.6,"v":0.02},{"i":19,"t":1,"v":-0.04},{"i":19,"t":1.6,"v":-0.1},{"i":19,"t":2.4,"v":-0.18},{"i":19,"t":3.2,"v":-0.14},{"i":19,"t":4,"v":-0.05},{"i":20,"t":-1,"v":0.19},{"i":20,"t":-0.5,"v":0.13},{"i":20,"t":0,"v":0.16},{"i":20,"t":0.3,"v":0.14},{"i":20,"t":0.6,"v":0.09},{"i":20,"t":1,"v":0.05},{"i":20,"t":1.6,"v":0.01},{"i":20,"t":2.4,"v":-0.05},{"i":20,"t":3.2,"v":-0.11},{"i":20,"t":4,"v":-0.17}]
},
"layer":[
{"data":{"name":"u9s"},"mark":{"type":"rect"},"encoding":{"x":{"field":"a","type":"quantitative","scale":{"domain":[0,1],"range":[40,257]},"axis":{"orient":"bottom","offset":-1080,"values":[0,0.2,0.4,0.6,0.8,1],"format":"~g","labelFontSize":17.5,"tickSize":0,"domain":false,"labelPadding":3,"title":null}},"x2":{"field":"b"},"y":{"field":"t","type":"quantitative","scale":{"domain":[-8.13,9],"range":[25,222]},"axis":{"orient":"left","offset":-40,"values":[-7,-5,-3,-1,1,3,5,7,9],"format":"d","labelExpr":"(datum.value+7)%4==0?replace(datum.label,'−','-'):''","labelFontSize":17.5,"domain":false,"tickSize":-3,"tickColor":"#bbb","labelPadding":8,"zindex":1,"title":"Time (s)","titleX":-20,"titleY":122}},"y2":{"field":"u"},"color":{"field":"v","type":"quantitative","scale":{"domain":[-7,-6,-4,-1.5,0,1.5,4,6,7],"range":["#4a78ff","#2a46ff","#0000d8","#000048","#060606","#480000","#b80000","#ee1010","#ff2414"]},"legend":{"orient":"none","legendX":728,"legendY":27,"gradientLength":197,"gradientThickness":16,"direction":"vertical","title":null,"values":[-6,-4,-2,0,2,4,6],"labelFontSize":17.5,"labelOffset":3,"labelExpr":"datum.value==0?'0 (k·L)':replace(datum.label,'−','-')"}}}},
{"data":{"name":"u9"},"mark":{"type":"rect","height":5.6,"strokeWidth":2,"strokeOpacity":0.35},"encoding":{"x":{"field":"a","type":"quantitative","scale":{"domain":[0,1],"range":[40,257]},"axis":null},"x2":{"field":"b"},"y":{"field":"t","type":"quantitative","scale":{"domain":[-8.13,9],"range":[25,222]},"axis":null},"color":{"field":"v","type":"quantitative","scale":{"domain":[-7,-6,-4,-1.5,0,1.5,4,6,7],"range":["#4a78ff","#2a46ff","#0000d8","#000048","#060606","#480000","#b80000","#ee1010","#ff2414"]},"legend":null},"stroke":{"field":"v","type":"quantitative","scale":{"domain":[-7,-6,-4,-1.5,0,1.5,4,6,7],"range":["#4a78ff","#2a46ff","#0000d8","#000048","#060606","#480000","#b80000","#ee1010","#ff2414"]},"legend":null}}},
{"data":{"values":[{"a":0.1,"b":0.3,"t":0.04,"u":7.1}]},"mark":{"type":"rect","color":"#2f6b12","opacity":0.85},"encoding":{"x":{"field":"a","type":"quantitative","scale":{"domain":[0,1],"range":[40,257]},"axis":null},"x2":{"field":"b"},"y":{"field":"t","type":"quantitative","scale":{"domain":[-8.13,9],"range":[25,222]},"axis":null},"y2":{"field":"u"}}},
{"data":{"values":[{"s":"unc-9","x":0.5,"y":-8.13}]},"mark":{"type":"text","fontSize":19,"fontStyle":"italic","yOffset":-8},"encoding":{"x":{"field":"x","type":"quantitative","scale":{"domain":[0,1],"range":[40,257]},"axis":null},"y":{"field":"y","type":"quantitative","scale":{"domain":[-8.13,9],"range":[25,222]},"axis":null},"text":{"field":"s"}}},
{"data":{"values":[{"s":"A","x":0,"y":-8.13}]},"mark":{"type":"text","fontSize":25,"xOffset":-23,"yOffset":-10},"encoding":{"x":{"field":"x","type":"quantitative","scale":{"domain":[0,1],"range":[40,257]},"axis":null},"y":{"field":"y","type":"quantitative","scale":{"domain":[-8.13,9],"range":[25,222]},"axis":null},"text":{"field":"s"}}},
{"data":{"name":"u7s"},"mark":{"type":"rect"},"encoding":{"x":{"field":"a","type":"quantitative","scale":{"domain":[0,1],"range":[272,490]},"axis":{"orient":"bottom","offset":-1080,"values":[0,0.2,0.4,0.6,0.8,1],"format":"~g","labelFontSize":17.5,"tickSize":0,"domain":false,"labelPadding":3,"title":"Fractional distance along centerline (head=0; tail=1)","titleX":411,"titleY":24,"titleFontSize":19.8}},"x2":{"field":"b"},"y":{"field":"t","type":"quantitative","scale":{"domain":[-8.13,9],"range":[25,222]},"axis":{"orient":"left","offset":-272,"values":[-7,-5,-3,-1,1,3,5,7,9],"labels":false,"domain":false,"tickSize":-3,"tickColor":"#bbb","zindex":1,"title":null}},"y2":{"field":"u"},"color":{"field":"v","type":"quantitative","scale":{"domain":[-7,-6,-4,-1.5,0,1.5,4,6,7],"range":["#4a78ff","#2a46ff","#0000d8","#000048","#060606","#480000","#b80000","#ee1010","#ff2414"]},"legend":null}}},
{"data":{"name":"u7"},"mark":{"type":"rect","height":5.6,"strokeWidth":2,"strokeOpacity":0.35},"encoding":{"x":{"field":"a","type":"quantitative","scale":{"domain":[0,1],"range":[272,490]},"axis":null},"x2":{"field":"b"},"y":{"field":"t","type":"quantitative","scale":{"domain":[-8.13,9],"range":[25,222]},"axis":null},"color":{"field":"v","type":"quantitative","scale":{"domain":[-7,-6,-4,-1.5,0,1.5,4,6,7],"range":["#4a78ff","#2a46ff","#0000d8","#000048","#060606","#480000","#b80000","#ee1010","#ff2414"]},"legend":null},"stroke":{"field":"v","type":"quantitative","scale":{"domain":[-7,-6,-4,-1.5,0,1.5,4,6,7],"range":["#4a78ff","#2a46ff","#0000d8","#000048","#060606","#480000","#b80000","#ee1010","#ff2414"]},"legend":null}}},
{"data":{"values":[{"a":0.1,"b":0.3,"t":0.04,"u":7.6}]},"mark":{"type":"rect","color":"#2f6b12","opacity":0.85},"encoding":{"x":{"field":"a","type":"quantitative","scale":{"domain":[0,1],"range":[272,490]},"axis":null},"x2":{"field":"b"},"y":{"field":"t","type":"quantitative","scale":{"domain":[-8.13,9],"range":[25,222]},"axis":null},"y2":{"field":"u"}}},
{"data":{"values":[{"s":"unc-7","x":0.5,"y":-8.13}]},"mark":{"type":"text","fontSize":19,"fontStyle":"italic","yOffset":-8},"encoding":{"x":{"field":"x","type":"quantitative","scale":{"domain":[0,1],"range":[272,490]},"axis":null},"y":{"field":"y","type":"quantitative","scale":{"domain":[-8.13,9],"range":[25,222]},"axis":null},"text":{"field":"s"}}},
{"data":{"name":"avs"},"mark":{"type":"rect"},"encoding":{"x":{"field":"a","type":"quantitative","scale":{"domain":[0,1],"range":[506,723]},"axis":{"orient":"bottom","offset":-1080,"values":[0,0.2,0.4,0.6,0.8,1],"format":"~g","labelFontSize":17.5,"tickSize":0,"domain":false,"labelPadding":3,"title":null}},"x2":{"field":"b"},"y":{"field":"t","type":"quantitative","scale":{"domain":[-8.13,9],"range":[25,222]},"axis":{"orient":"left","offset":-506,"values":[-7,-5,-3,-1,1,3,5,7,9],"labels":false,"domain":false,"tickSize":-3,"tickColor":"#bbb","zindex":1,"title":null}},"y2":{"field":"u"},"color":{"field":"v","type":"quantitative","scale":{"domain":[-7,-6,-4,-1.5,0,1.5,4,6,7],"range":["#4a78ff","#2a46ff","#0000d8","#000048","#060606","#480000","#b80000","#ee1010","#ff2414"]},"legend":null}}},
{"data":{"name":"av"},"mark":{"type":"rect","height":5.6,"strokeWidth":2,"strokeOpacity":0.35},"encoding":{"x":{"field":"a","type":"quantitative","scale":{"domain":[0,1],"range":[506,723]},"axis":null},"x2":{"field":"b"},"y":{"field":"t","type":"quantitative","scale":{"domain":[-8.13,9],"range":[25,222]},"axis":null},"color":{"field":"v","type":"quantitative","scale":{"domain":[-7,-6,-4,-1.5,0,1.5,4,6,7],"range":["#4a78ff","#2a46ff","#0000d8","#000048","#060606","#480000","#b80000","#ee1010","#ff2414"]},"legend":null},"stroke":{"field":"v","type":"quantitative","scale":{"domain":[-7,-6,-4,-1.5,0,1.5,4,6,7],"range":["#4a78ff","#2a46ff","#0000d8","#000048","#060606","#480000","#b80000","#ee1010","#ff2414"]},"legend":null}}},
{"data":{"values":[{"a":0.1,"b":0.3,"t":0.04,"u":7.6}]},"mark":{"type":"rect","color":"#3a7a0a","opacity":0.9},"encoding":{"x":{"field":"a","type":"quantitative","scale":{"domain":[0,1],"range":[506,723]},"axis":null},"x2":{"field":"b"},"y":{"field":"t","type":"quantitative","scale":{"domain":[-8.13,9],"range":[25,222]},"axis":null},"y2":{"field":"u"}}},
{"data":{"values":[{"s":"AVB ablated","x":0.52,"y":-8.13}]},"mark":{"type":"text","fontSize":19.5,"yOffset":-8},"encoding":{"x":{"field":"x","type":"quantitative","scale":{"domain":[0,1],"range":[506,723]},"axis":null},"y":{"field":"y","type":"quantitative","scale":{"domain":[-8.13,9],"range":[25,222]},"axis":null},"text":{"field":"s"}}},
{"data":{"values":[{"g":"Ctrl","p":0.7},{"g":"unc-7","p":0.08},{"g":"unc-9","p":0.018},{"g":"AVB ablated","p":0.05},{"g":"unc-7 rescue","p":0.485}]},"mark":{"type":"bar"},"encoding":{"x":{"field":"g","type":"nominal","scale":{"type":"band","domain":["Ctrl","unc-7","unc-9","AVB ablated","unc-7 rescue"],"range":[90,336],"paddingInner":0.347,"paddingOuter":0.398},"axis":{"orient":"bottom","offset":-722,"labelAngle":-33,"labelAlign":"right","labelBaseline":"top","labelFontSize":20,"domain":false,"ticks":false,"labelPadding":1,"title":null,"labelFontStyle":{"condition":{"test":"indexof(datum.value,'unc')==0","value":"italic"},"value":"normal"}}},"y":{"field":"p","type":"quantitative","scale":{"domain":[0,0.8],"range":[580,349]},"axis":{"orient":"left","offset":-90,"values":[0,0.1,0.2,0.3,0.4,0.5,0.6,0.7,0.8],"format":"~g","labelExpr":"indexof(['0','0.2','0.4','0.6','0.8'],datum.label)>=0?datum.label:''","tickSize":3,"labelPadding":3,"title":["Probability for inducing","high-frequency mid-body undulation"],"titleX":-67,"titleY":462,"titleLineHeight":23}},"color":{"field":"g","type":"nominal","scale":{"domain":["Ctrl","unc-7","unc-9","AVB ablated","unc-7 rescue"],"range":["#e1e6e6","#bf7f2e","#a9e6f2","#7a3e0a","#efdfa9"]},"legend":null}}},
{"data":{"values":[{"g":"Ctrl","lo":0.607,"hi":0.787},{"g":"unc-7","lo":0.035,"hi":0.15},{"g":"unc-9","lo":0.005,"hi":0.078},{"g":"AVB ablated","lo":0.005,"hi":0.17},{"g":"unc-7 rescue","lo":0.38,"hi":0.6}]},"mark":{"type":"rule","color":"#111","strokeWidth":1},"encoding":{"x":{"field":"g","type":"nominal","scale":{"type":"band","domain":["Ctrl","unc-7","unc-9","AVB ablated","unc-7 rescue"],"range":[90,336],"paddingInner":0.347,"paddingOuter":0.398},"axis":null},"y":{"field":"lo","type":"quantitative","scale":{"domain":[0,0.8],"range":[580,349]},"axis":null},"y2":{"field":"hi"}}},
{"data":{"values":[{"g":"Ctrl","lo":0.607,"hi":0.787},{"g":"unc-7","lo":0.035,"hi":0.15},{"g":"unc-9","lo":0.005,"hi":0.078},{"g":"AVB ablated","lo":0.005,"hi":0.17},{"g":"unc-7 rescue","lo":0.38,"hi":0.6}]},"mark":{"type":"tick","color":"#111","thickness":1,"size":6},"encoding":{"x":{"field":"g","type":"nominal","scale":{"type":"band","domain":["Ctrl","unc-7","unc-9","AVB ablated","unc-7 rescue"],"range":[90,336],"paddingInner":0.347,"paddingOuter":0.398},"axis":null},"y":{"field":"lo","type":"quantitative","scale":{"domain":[0,0.8],"range":[580,349]},"axis":null}}},
{"data":{"values":[{"g":"Ctrl","lo":0.607,"hi":0.787},{"g":"unc-7","lo":0.035,"hi":0.15},{"g":"unc-9","lo":0.005,"hi":0.078},{"g":"AVB ablated","lo":0.005,"hi":0.17},{"g":"unc-7 rescue","lo":0.38,"hi":0.6}]},"mark":{"type":"tick","color":"#111","thickness":1,"size":6},"encoding":{"x":{"field":"g","type":"nominal","scale":{"type":"band","domain":["Ctrl","unc-7","unc-9","AVB ablated","unc-7 rescue"],"range":[90,336],"paddingInner":0.347,"paddingOuter":0.398},"axis":null},"y":{"field":"hi","type":"quantitative","scale":{"domain":[0,0.8],"range":[580,349]},"axis":null}}},
{"data":{"values":[{"g":"unc-7","s":"#\n***","y":0.195},{"g":"unc-9","s":"#\n***","y":0.12},{"g":"AVB ablated","s":"#\n***","y":0.213},{"g":"unc-7 rescue","s":"*","y":0.61}]},"mark":{"type":"text","fontSize":18,"baseline":"middle","lineBreak":"\n","lineHeight":13},"encoding":{"x":{"field":"g","type":"nominal","scale":{"type":"band","domain":["Ctrl","unc-7","unc-9","AVB ablated","unc-7 rescue"],"range":[90,336],"paddingInner":0.347,"paddingOuter":0.398},"axis":null},"y":{"field":"y","type":"quantitative","scale":{"domain":[0,0.8],"range":[580,349]},"axis":null},"text":{"field":"s"}}},
{"data":{"values":[{"g":"unc-7 rescue","s":"in AVB","y":0}]},"mark":{"type":"text","fontSize":20,"angle":-33,"align":"right","baseline":"top","xOffset":-1,"yOffset":37},"encoding":{"x":{"field":"g","type":"nominal","scale":{"type":"band","domain":["Ctrl","unc-7","unc-9","AVB ablated","unc-7 rescue"],"range":[90,336],"paddingInner":0.347,"paddingOuter":0.398},"axis":null},"y":{"field":"y","type":"quantitative","scale":{"domain":[0,0.8],"range":[580,349]},"axis":null},"text":{"field":"s"}}},
{"data":{"values":[{"s":"B","g":"Ctrl","y":0.8}]},"mark":{"type":"text","fontSize":25,"xOffset":-106,"yOffset":-57},"encoding":{"x":{"field":"g","type":"nominal","scale":{"type":"band","domain":["Ctrl","unc-7","unc-9","AVB ablated","unc-7 rescue"],"range":[90,336],"paddingInner":0.347,"paddingOuter":0.398},"axis":null},"y":{"field":"y","type":"quantitative","scale":{"domain":[0,0.8],"range":[580,349]},"axis":null},"text":{"field":"s"}}},
{"data":{"values":[{"g":"Ctrl","c":"h-f wiggle","a":0,"b":4.45},{"g":"Ctrl","c":"paralysis","a":4.45,"b":6.284},{"g":"unc-7","c":"h-f wiggle","a":0,"b":0.44},{"g":"unc-7","c":"paralysis","a":0.44,"b":6.18},{"g":"unc-7","c":"non h-f wiggle","a":6.18,"b":6.284},{"g":"unc-9","c":"h-f wiggle","a":0,"b":0.07},{"g":"unc-9","c":"paralysis","a":0.07,"b":4.71},{"g":"unc-9","c":"non h-f wiggle","a":4.71,"b":6.284},{"g":"AVB ablated","c":"h-f wiggle","a":0,"b":0.32},{"g":"AVB ablated","c":"paralysis","a":0.32,"b":6.284},{"g":"unc-7 rescue","c":"h-f wiggle","a":0,"b":2.97},{"g":"unc-7 rescue","c":"paralysis","a":2.97,"b":5.24},{"g":"unc-7 rescue","c":"non h-f wiggle","a":5.24,"b":6.284}]},"mark":{"type":"arc","outerRadius":20.5},"encoding":{"x":{"field":"g","type":"nominal","scale":{"type":"band","domain":["Ctrl","unc-7","unc-9","AVB ablated","unc-7 rescue"],"range":[90,336],"paddingInner":0.347,"paddingOuter":0.398},"axis":null},"y":{"datum":0.5,"type":"quantitative","scale":{"domain":[0,1],"range":[701,661]},"axis":null},"theta":{"field":"a","type":"quantitative","scale":null,"stack":null},"theta2":{"field":"b"},"color":{"field":"c","type":"nominal","scale":{"domain":["h-f wiggle","non h-f wiggle","paralysis"],"range":["#6db9f5","#b8b59c","#4a5054"]},"legend":{"orient":"none","legendX":9,"legendY":711,"direction":"horizontal","title":null,"symbolType":"circle","symbolSize":40,"labelFontSize":20,"labelOffset":1,"columnPadding":-2}}}},
{"data":{"values":[{"a":0,"b":4,"y":-0.3,"u":0.46}]},"mark":{"type":"rect","color":"#ff8fb8"},"encoding":{"x":{"field":"a","type":"quantitative","scale":{"domain":[-1,4],"range":[430,604]},"axis":{"orient":"bottom","offset":-807,"values":[-1,0,1,2,3,4],"labels":false,"tickSize":-4,"title":null,"zindex":1}},"x2":{"field":"b"},"y":{"field":"y","type":"quantitative","scale":{"domain":[-0.3,0.46],"range":[495,287]},"axis":{"orient":"left","offset":-421,"values":[-0.3,-0.2,-0.1,0,0.1,0.2,0.3,0.4],"format":"~g","labelExpr":"replace(datum.label,'−','-')","tickSize":4,"labelPadding":2,"title":"Locomotion velocity (L/s)","titleX":-39,"titleY":491}},"y2":{"field":"u"}}},
{"data":{"values":[{"t":0,"l":0,"h":0.03},{"t":0.5,"l":0.03,"h":0.14},{"t":1,"l":0.07,"h":0.2},{"t":2,"l":0.14,"h":0.29},{"t":3,"l":0.17,"h":0.31},{"t":4,"l":0.18,"h":0.32}]},"mark":{"type":"area","color":"#5e6a70","opacity":0.3},"encoding":{"x":{"field":"t","type":"quantitative","scale":{"domain":[-1,4],"range":[430,604]},"axis":null},"y":{"field":"l","type":"quantitative","scale":{"domain":[-0.3,0.46],"range":[495,287]},"axis":null},"y2":{"field":"h"}}},
{"data":{"name":"ct"},"mark":{"type":"line","color":"#555d60","strokeWidth":0.7,"opacity":0.7,"interpolate":"monotone"},"encoding":{"x":{"field":"t","type":"quantitative","scale":{"domain":[-1,4],"range":[430,604]},"axis":null},"y":{"field":"v","type":"quantitative","scale":{"domain":[-0.3,0.46],"range":[495,287]},"axis":null},"detail":{"field":"i"}}},
{"data":{"values":[{"t":-1,"l":0,"h":0.025},{"t":-0.5,"l":0,"h":0.03},{"t":0,"l":0,"h":0.02},{"t":0.3,"l":0.02,"h":0.05}]},"mark":{"type":"area","color":"#5e6a70","opacity":0.8},"encoding":{"x":{"field":"t","type":"quantitative","scale":{"domain":[-1,4],"range":[430,604]},"axis":null},"y":{"field":"l","type":"quantitative","scale":{"domain":[-0.3,0.46],"range":[495,287]},"axis":null},"y2":{"field":"h"}}},
{"data":{"values":[{"t":-1,"v":-0.02},{"t":-0.5,"v":-0.018},{"t":-0.2,"v":-0.015},{"t":0,"v":0},{"t":0.3,"v":0.05},{"t":0.7,"v":0.1},{"t":1,"v":0.13},{"t":1.3,"v":0.155},{"t":1.7,"v":0.19},{"t":2,"v":0.2},{"t":2.5,"v":0.22},{"t":3,"v":0.235},{"t":3.4,"v":0.25},{"t":3.7,"v":0.252},{"t":4,"v":0.25}]},"mark":{"type":"line","color":"#3f52e8","strokeWidth":4,"interpolate":"monotone"},"encoding":{"x":{"field":"t","type":"quantitative","scale":{"domain":[-1,4],"range":[430,604]},"axis":null},"y":{"field":"v","type":"quantitative","scale":{"domain":[-0.3,0.46],"range":[495,287]},"axis":null}}},
{"data":{"values":[{"s":"Red light","t":2,"v":-0.055},{"s":"illumination","t":2,"v":-0.143}]},"mark":{"type":"text","fontSize":19.5},"encoding":{"x":{"field":"t","type":"quantitative","scale":{"domain":[-1,4],"range":[430,604]},"axis":null},"y":{"field":"v","type":"quantitative","scale":{"domain":[-0.3,0.46],"range":[495,287]},"axis":null},"text":{"field":"s"}}},
{"data":{"values":[{"s":"C","t":-1,"v":0.46}]},"mark":{"type":"text","fontSize":25,"xOffset":-83,"yOffset":6},"encoding":{"x":{"field":"t","type":"quantitative","scale":{"domain":[-1,4],"range":[430,604]},"axis":null},"y":{"field":"v","type":"quantitative","scale":{"domain":[-0.3,0.46],"range":[495,287]},"axis":null},"text":{"field":"s"}}},
{"data":{"values":[{"a":0,"b":4,"y":-0.344,"u":0.4}]},"mark":{"type":"rect","color":"#a0b2f5"},"encoding":{"x":{"field":"a","type":"quantitative","scale":{"domain":[-1,4],"range":[430,604]},"axis":{"orient":"bottom","offset":-560,"values":[-1,0,1,2,3,4],"format":"d","labelExpr":"replace(datum.label,'−','-')","tickSize":-4,"labelPadding":6,"title":"Time (s)","titlePadding":-3,"titleX":523,"zindex":1}},"x2":{"field":"b"},"y":{"field":"y","type":"quantitative","scale":{"domain":[-0.344,0.4],"range":[741.7,533.3]},"axis":{"orient":"left","offset":-421,"values":[-0.3,-0.2,-0.1,0,0.1,0.2,0.3,0.4],"format":"~g","labelExpr":"replace(datum.label,'−','-')","tickSize":4,"labelPadding":2,"title":null}},"y2":{"field":"u"}}},
{"data":{"values":[{"t":1,"l":-0.1,"h":0},{"t":2,"l":-0.25,"h":0},{"t":4,"l":-0.28,"h":0}]},"mark":{"type":"area","color":"#5e6a70","opacity":0.22},"encoding":{"x":{"field":"t","type":"quantitative","scale":{"domain":[-1,4],"range":[430,604]},"axis":null},"y":{"field":"l","type":"quantitative","scale":{"domain":[-0.344,0.4],"range":[741.7,533.3]},"axis":null},"y2":{"field":"h"}}},
{"data":{"name":"dt"},"mark":{"type":"line","color":"#555d60","strokeWidth":0.7,"opacity":0.7,"interpolate":"monotone"},"encoding":{"x":{"field":"t","type":"quantitative","scale":{"domain":[-1,4],"range":[430,604]},"axis":null},"y":{"field":"v","type":"quantitative","scale":{"domain":[-0.344,0.4],"range":[741.7,533.3]},"axis":null},"detail":{"field":"i"}}},
{"data":{"values":[{"t":-1,"l":0.07,"h":0.17},{"t":0,"l":0.09,"h":0.17},{"t":0.3,"l":0.07,"h":0.15},{"t":0.6,"l":0,"h":0.08},{"t":0.8,"l":-0.01,"h":0.025},{"t":1.2,"l":-0.007,"h":0.017},{"t":4,"l":-0.007,"h":0.017}]},"mark":{"type":"area","color":"#5e6a70","opacity":0.75},"encoding":{"x":{"field":"t","type":"quantitative","scale":{"domain":[-1,4],"range":[430,604]},"axis":null},"y":{"field":"l","type":"quantitative","scale":{"domain":[-0.344,0.4],"range":[741.7,533.3]},"axis":null},"y2":{"field":"h"}}},
{"data":{"values":[{"t":-1,"v":0.13},{"t":-0.5,"v":0.13},{"t":0,"v":0.13},{"t":0.2,"v":0.125},{"t":0.4,"v":0.08},{"t":0.6,"v":0.03},{"t":0.8,"v":0.01},{"t":1,"v":0.005},{"t":1.5,"v":-0.02},{"t":2,"v":-0.035},{"t":2.5,"v":-0.037},{"t":3,"v":-0.033},{"t":3.5,"v":-0.033},{"t":4,"v":-0.04}]},"mark":{"type":"line","color":"#c0283a","strokeWidth":2.5,"interpolate":"monotone"},"encoding":{"x":{"field":"t","type":"quantitative","scale":{"domain":[-1,4],"range":[430,604]},"axis":null},"y":{"field":"v","type":"quantitative","scale":{"domain":[-0.344,0.4],"range":[741.7,533.3]},"axis":null}}},
{"data":{"values":[{"s":"Blue light","t":1.95,"v":0.362},{"s":"illumination","t":1.95,"v":0.276}]},"mark":{"type":"text","fontSize":19.5},"encoding":{"x":{"field":"t","type":"quantitative","scale":{"domain":[-1,4],"range":[430,604]},"axis":null},"y":{"field":"v","type":"quantitative","scale":{"domain":[-0.344,0.4],"range":[741.7,533.3]},"axis":null},"text":{"field":"s"}}},
{"data":{"values":[{"s":"D","t":-1,"v":0.4}]},"mark":{"type":"text","fontSize":25,"xOffset":-83,"yOffset":-11},"encoding":{"x":{"field":"t","type":"quantitative","scale":{"domain":[-1,4],"range":[430,604]},"axis":null},"y":{"field":"v","type":"quantitative","scale":{"domain":[-0.344,0.4],"range":[741.7,533.3]},"axis":null},"text":{"field":"s"}}},
{"data":{"values":[{"g":"Ctrl","p":0.05},{"g":"Psra-11::Chrimson","p":0.84}]},"mark":{"type":"bar","color":"#0d0d0d"},"encoding":{"x":{"field":"g","type":"nominal","scale":{"type":"band","domain":["Ctrl","Psra-11::Chrimson"],"range":[714.3,804.7],"paddingInner":0.587,"paddingOuter":0.276},"axis":{"orient":"bottom","offset":-854,"labelAngle":-30,"labelAlign":"right","labelBaseline":"top","labelFontSize":17.5,"domain":false,"ticks":false,"labelPadding":1,"title":null}},"y":{"field":"p","type":"quantitative","scale":{"domain":[0,1],"range":[448,289]},"axis":{"orient":"left","offset":-714.3,"values":[0,0.2,0.4,0.6,0.8,1],"format":"~g","tickSize":3,"labelPadding":3,"title":["Probability for triggering","forward locomotion"],"titleX":-73,"titleY":393,"titleLineHeight":23}}}},
{"data":{"values":[{"g":"Ctrl","lo":0.05,"hi":0.15},{"g":"Psra-11::Chrimson","lo":0.84,"hi":0.91}]},"mark":{"type":"rule","color":"#111","strokeWidth":1},"encoding":{"x":{"field":"g","type":"nominal","scale":{"type":"band","domain":["Ctrl","Psra-11::Chrimson"],"range":[714.3,804.7],"paddingInner":0.587,"paddingOuter":0.276},"axis":null},"y":{"field":"lo","type":"quantitative","scale":{"domain":[0,1],"range":[448,289]},"axis":null},"y2":{"field":"hi"}}},
{"data":{"values":[{"g":"Ctrl","hi":0.15},{"g":"Psra-11::Chrimson","hi":0.91}]},"mark":{"type":"tick","color":"#111","thickness":1,"size":5},"encoding":{"x":{"field":"g","type":"nominal","scale":{"type":"band","domain":["Ctrl","Psra-11::Chrimson"],"range":[714.3,804.7],"paddingInner":0.587,"paddingOuter":0.276},"axis":null},"y":{"field":"hi","type":"quantitative","scale":{"domain":[0,1],"range":[448,289]},"axis":null}}},
{"data":{"values":[{"g":"Psra-11::Chrimson","s":"***","y":0.95}]},"mark":{"type":"text","fontSize":16},"encoding":{"x":{"field":"g","type":"nominal","scale":{"type":"band","domain":["Ctrl","Psra-11::Chrimson"],"range":[714.3,804.7],"paddingInner":0.587,"paddingOuter":0.276},"axis":null},"y":{"field":"y","type":"quantitative","scale":{"domain":[0,1],"range":[448,289]},"axis":null},"text":{"field":"s"}}},
{"data":{"values":[{"g":"Ctrl","p":0.16},{"g":"Psra-11::GtACR2","p":0.935}]},"mark":{"type":"bar","color":"#0d0d0d"},"encoding":{"x":{"field":"g","type":"nominal","scale":{"type":"band","domain":["Ctrl","Psra-11::GtACR2"],"range":[714,803.8],"paddingInner":0.57,"paddingOuter":0.324},"axis":{"orient":"bottom","offset":-598,"labelAngle":-30,"labelAlign":"right","labelBaseline":"top","labelFontSize":17.5,"domain":false,"ticks":false,"labelPadding":1,"title":null}},"y":{"field":"p","type":"quantitative","scale":{"domain":[0,1],"range":[704,544]},"axis":{"orient":"left","offset":-714,"values":[0,0.2,0.4,0.6,0.8,1],"format":"~g","tickSize":3,"labelPadding":3,"title":["Probability for abolishing","forward locomotion"],"titleX":-73,"titleY":640,"titleLineHeight":23}}}},
{"data":{"values":[{"g":"Ctrl","lo":0.16,"hi":0.26},{"g":"Psra-11::GtACR2","lo":0.935,"hi":0.97}]},"mark":{"type":"rule","color":"#111","strokeWidth":1},"encoding":{"x":{"field":"g","type":"nominal","scale":{"type":"band","domain":["Ctrl","Psra-11::GtACR2"],"range":[714,803.8],"paddingInner":0.57,"paddingOuter":0.324},"axis":null},"y":{"field":"lo","type":"quantitative","scale":{"domain":[0,1],"range":[704,544]},"axis":null},"y2":{"field":"hi"}}},
{"data":{"values":[{"g":"Ctrl","hi":0.26},{"g":"Psra-11::GtACR2","hi":0.97}]},"mark":{"type":"tick","color":"#111","thickness":1,"size":5},"encoding":{"x":{"field":"g","type":"nominal","scale":{"type":"band","domain":["Ctrl","Psra-11::GtACR2"],"range":[714,803.8],"paddingInner":0.57,"paddingOuter":0.324},"axis":null},"y":{"field":"hi","type":"quantitative","scale":{"domain":[0,1],"range":[704,544]},"axis":null}}},
{"data":{"values":[{"g":"Psra-11::GtACR2","s":"***","y":1.01}]},"mark":{"type":"text","fontSize":16},"encoding":{"x":{"field":"g","type":"nominal","scale":{"type":"band","domain":["Ctrl","Psra-11::GtACR2"],"range":[714,803.8],"paddingInner":0.57,"paddingOuter":0.324},"axis":null},"y":{"field":"y","type":"quantitative","scale":{"domain":[0,1],"range":[704,544]},"axis":null},"text":{"field":"s"}}},
{"data":{"name":"db5"},"mark":{"type":"area","color":"#dfa3ee"},"encoding":{"x":{"field":"t","type":"quantitative","scale":{"domain":[0,60],"range":[90.7,421]},"axis":{"orient":"bottom","offset":-421,"values":[0,10,20,30,40,50,60],"labels":false,"tickSize":-4,"title":null}},"y":{"field":"l","type":"quantitative","scale":{"domain":[0,0.4],"range":[881,796.7]},"axis":{"orient":"left","offset":-90.7,"values":[0,0.1,0.2,0.3,0.4],"format":"~g","labelExpr":"indexof(['0','0.2','0.4'],datum.label)>=0?datum.label:''","tickSize":-4,"labelPadding":4,"title":null}},"y2":{"field":"h"}}},
{"data":{"name":"db5"},"mark":{"type":"line","color":"#c81e28","strokeWidth":1.4,"interpolate":"monotone"},"encoding":{"x":{"field":"t","type":"quantitative","scale":{"domain":[0,60],"range":[90.7,421]},"axis":null},"y":{"field":"v","type":"quantitative","scale":{"domain":[0,0.4],"range":[881,796.7]},"axis":null}}},
{"data":{"values":[{"s":"DB5","t":31.1,"v":0.427}]},"mark":{"type":"text","fontSize":18},"encoding":{"x":{"field":"t","type":"quantitative","scale":{"domain":[0,60],"range":[90.7,421]},"axis":null},"y":{"field":"v","type":"quantitative","scale":{"domain":[0,0.4],"range":[881,796.7]},"axis":null},"text":{"field":"s"}}},
{"data":{"values":[{"s":"E","t":0,"v":0.4}]},"mark":{"type":"text","fontSize":25,"xOffset":-74,"yOffset":3},"encoding":{"x":{"field":"t","type":"quantitative","scale":{"domain":[0,60],"range":[90.7,421]},"axis":null},"y":{"field":"v","type":"quantitative","scale":{"domain":[0,0.4],"range":[881,796.7]},"axis":null},"text":{"field":"s"}}},
{"data":{"values":[{"s":"ΔR/R₀","t":0,"v":-0.09}]},"mark":{"type":"text","fontSize":19,"angle":-90,"xOffset":-50.7},"encoding":{"x":{"field":"t","type":"quantitative","scale":{"domain":[0,60],"range":[90.7,421]},"axis":null},"y":{"field":"v","type":"quantitative","scale":{"domain":[0,0.4],"range":[881,796.7]},"axis":null},"text":{"field":"s"}}},
{"data":{"name":"vb7"},"mark":{"type":"area","color":"#a9b4ec"},"encoding":{"x":{"field":"t","type":"quantitative","scale":{"domain":[0,60],"range":[90.7,421]},"axis":{"orient":"bottom","offset":-299.7,"values":[0,10,20,30,40,50,60],"format":"d","tickSize":-4,"labelPadding":6,"title":"Time (s)","titlePadding":3,"titleX":270}},"y":{"field":"l","type":"quantitative","scale":{"domain":[0,0.4],"range":[1002.3,918]},"axis":{"orient":"left","offset":-90.7,"values":[0,0.1,0.2,0.3,0.4],"format":"~g","labelExpr":"indexof(['0','0.2','0.4'],datum.label)>=0?datum.label:''","tickSize":-4,"labelPadding":4,"title":null}},"y2":{"field":"h"}}},
{"data":{"name":"vb7"},"mark":{"type":"line","color":"#2a3fd0","strokeWidth":1.4,"interpolate":"monotone"},"encoding":{"x":{"field":"t","type":"quantitative","scale":{"domain":[0,60],"range":[90.7,421]},"axis":null},"y":{"field":"v","type":"quantitative","scale":{"domain":[0,0.4],"range":[1002.3,918]},"axis":null}}},
{"data":{"values":[{"s":"VB7","t":31.1,"v":0.419}]},"mark":{"type":"text","fontSize":18},"encoding":{"x":{"field":"t","type":"quantitative","scale":{"domain":[0,60],"range":[90.7,421]},"axis":null},"y":{"field":"v","type":"quantitative","scale":{"domain":[0,0.4],"range":[1002.3,918]},"axis":null},"text":{"field":"s"}}},
{"data":{"name":"vb9"},"mark":{"type":"area","color":"#a9b4ec"},"encoding":{"x":{"field":"t","type":"quantitative","scale":{"domain":[0,60],"range":[87.3,420]},"axis":{"orient":"bottom","offset":-149,"values":[0,10,20,30,40,50,60],"labels":false,"tickSize":-4,"title":null}},"y":{"field":"l","type":"quantitative","scale":{"domain":[0,0.5],"range":[1153,1069]},"axis":{"orient":"left","offset":-88.3,"values":[0,0.1,0.2,0.3,0.4,0.5],"format":"~g","labelExpr":"indexof(['0','0.2','0.4'],datum.label)>=0?datum.label:''","tickSize":-4,"labelPadding":4,"title":null}},"y2":{"field":"h"}}},
{"data":{"name":"vb9"},"mark":{"type":"line","color":"#2a3fd0","strokeWidth":1.4,"interpolate":"monotone"},"encoding":{"x":{"field":"t","type":"quantitative","scale":{"domain":[0,60],"range":[87.3,420]},"axis":null},"y":{"field":"v","type":"quantitative","scale":{"domain":[0,0.5],"range":[1153,1069]},"axis":null}}},
{"data":{"values":[{"s":"VB9","t":31.5,"v":0.506}]},"mark":{"type":"text","fontSize":18},"encoding":{"x":{"field":"t","type":"quantitative","scale":{"domain":[0,60],"range":[87.3,420]},"axis":null},"y":{"field":"v","type":"quantitative","scale":{"domain":[0,0.5],"range":[1153,1069]},"axis":null},"text":{"field":"s"}}},
{"data":{"values":[{"s":"ΔR/R₀","t":0,"v":0.018}]},"mark":{"type":"text","fontSize":19,"angle":-90,"xOffset":-50},"encoding":{"x":{"field":"t","type":"quantitative","scale":{"domain":[0,60],"range":[87.3,420]},"axis":null},"y":{"field":"v","type":"quantitative","scale":{"domain":[0,0.5],"range":[1153,1069]},"axis":null},"text":{"field":"s"}}},
{"data":{"name":"db6"},"mark":{"type":"area","color":"#dfa3ee"},"encoding":{"x":{"field":"t","type":"quantitative","scale":{"domain":[0,60],"range":[87.3,420]},"axis":{"orient":"bottom","offset":-47,"values":[0,10,20,30,40,50,60],"format":"d","tickSize":-4,"labelPadding":6,"title":"Time (s)","titlePadding":0,"titleX":267}},"y":{"field":"l","type":"quantitative","scale":{"domain":[0,0.5],"range":[1255,1170.7]},"axis":{"orient":"left","offset":-88.3,"values":[0,0.1,0.2,0.3,0.4,0.5],"format":"~g","labelExpr":"indexof(['0','0.2','0.4'],datum.label)>=0?datum.label:''","tickSize":-4,"labelPadding":4,"title":null}},"y2":{"field":"h"}}},
{"data":{"name":"db6"},"mark":{"type":"line","color":"#c81e28","strokeWidth":1.4,"interpolate":"monotone"},"encoding":{"x":{"field":"t","type":"quantitative","scale":{"domain":[0,60],"range":[87.3,420]},"axis":null},"y":{"field":"v","type":"quantitative","scale":{"domain":[0,0.5],"range":[1255,1170.7]},"axis":null}}},
{"data":{"values":[{"s":"DB6","t":31.5,"v":0.482}]},"mark":{"type":"text","fontSize":18},"encoding":{"x":{"field":"t","type":"quantitative","scale":{"domain":[0,60],"range":[87.3,420]},"axis":null},"y":{"field":"v","type":"quantitative","scale":{"domain":[0,0.5],"range":[1255,1170.7]},"axis":null},"text":{"field":"s"}}},
{"data":{"name":"f1"},"mark":{"type":"line","strokeWidth":1.4},"encoding":{"x":{"field":"f","type":"quantitative","scale":{"domain":[0,1],"range":[556.7,726.7]},"axis":{"orient":"bottom","offset":-277,"values":[0,0.2,0.4,0.6,0.8,1],"format":"~g","tickSize":-3,"labelPadding":6,"title":null}},"y":{"field":"m","type":"quantitative","scale":{"domain":[0,15],"range":[1025,846]},"axis":{"orient":"left","offset":-556.7,"values":[0,5,10,15],"format":"d","tickSize":3,"labelPadding":2,"title":"Magnitude (Hz⁻¹)","titleX":-42,"titleY":1032}},"color":{"field":"s","type":"nominal","scale":{"domain":["DB5","VB7"],"range":["#c8242c","#2a45d0"]},"legend":{"orient":"none","legendX":664,"legendY":843,"title":null,"symbolType":"stroke","symbolSize":420,"symbolStrokeWidth":1.5,"labelFontSize":19,"labelOffset":2,"rowPadding":1}}}},
{"data":{"values":[{"s":"×10⁻³","x":0,"y":15}]},"mark":{"type":"text","fontSize":15,"align":"left","xOffset":-2,"yOffset":-11},"encoding":{"x":{"field":"x","type":"quantitative","scale":{"domain":[0,1],"range":[556.7,726.7]},"axis":null},"y":{"field":"y","type":"quantitative","scale":{"domain":[0,15],"range":[1025,846]},"axis":null},"text":{"field":"s"}}},
{"data":{"values":[{"s":"F","x":0,"y":15}]},"mark":{"type":"text","fontSize":25,"xOffset":-71,"yOffset":-48},"encoding":{"x":{"field":"x","type":"quantitative","scale":{"domain":[0,1],"range":[556.7,726.7]},"axis":null},"y":{"field":"y","type":"quantitative","scale":{"domain":[0,15],"range":[1025,846]},"axis":null},"text":{"field":"s"}}},
{"data":{"values":[{"s":"Power spectral density","x":0.47,"y":15}]},"mark":{"type":"text","fontSize":18.5,"fontWeight":"bold","yOffset":-46},"encoding":{"x":{"field":"x","type":"quantitative","scale":{"domain":[0,1],"range":[556.7,726.7]},"axis":null},"y":{"field":"y","type":"quantitative","scale":{"domain":[0,15],"range":[1025,846]},"axis":null},"text":{"field":"s"}}},
{"data":{"name":"f2"},"mark":{"type":"line","strokeWidth":1.4},"encoding":{"x":{"field":"f","type":"quantitative","scale":{"domain":[0,1],"range":[556.7,726.7]},"axis":{"orient":"bottom","offset":-49,"values":[0,0.2,0.4,0.6,0.8,1],"format":"~g","tickSize":-3,"labelPadding":6,"title":"Frequency (Hz)","titlePadding":3}},"y":{"field":"m","type":"quantitative","scale":{"domain":[0,6],"range":[1253,1075]},"axis":{"orient":"left","offset":-556.7,"values":[0,1,2,3,4,5,6],"format":"d","tickSize":3,"labelPadding":2,"title":null}},"color":{"field":"s","type":"nominal","scale":{"domain":["VB9","DB6"],"range":["#2a45d0","#c8242c"]},"legend":{"orient":"none","legendX":661,"legendY":1072,"title":null,"symbolType":"stroke","symbolSize":420,"symbolStrokeWidth":1.5,"labelFontSize":19,"labelOffset":2,"rowPadding":1}}}},
{"data":{"values":[{"s":"×10⁻²","x":0,"y":6}]},"mark":{"type":"text","fontSize":15,"align":"left","xOffset":-2,"yOffset":-12},"encoding":{"x":{"field":"x","type":"quantitative","scale":{"domain":[0,1],"range":[556.7,726.7]},"axis":null},"y":{"field":"y","type":"quantitative","scale":{"domain":[0,6],"range":[1253,1075]},"axis":null},"text":{"field":"s"}}}
]}
